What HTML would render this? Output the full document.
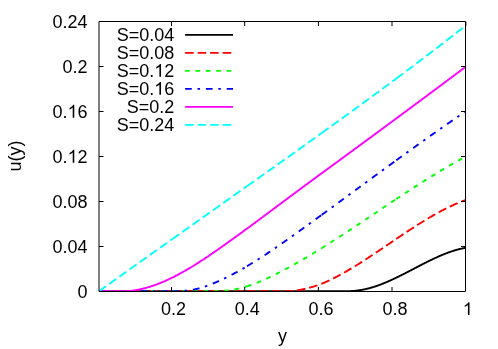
<!DOCTYPE html>
<html><head><meta charset="utf-8"><title>u(y)</title>
<style>html,body{margin:0;padding:0;background:#fff}body{width:498px;height:349px;overflow:hidden;font-family:"Liberation Sans",sans-serif}</style></head>
<body>
<svg width="498" height="349" viewBox="0 0 498 349" style="display:block;will-change:transform">
<rect width="498" height="349" fill="#fff"/>
<g fill="none" stroke-width="1.9" stroke-linejoin="round">
<path d="M99.00,291.15 L99.41,291.15 L99.82,291.15 L100.22,291.15 L100.63,291.15 L101.04,291.15 L101.45,291.15 L101.85,291.15 L102.26,291.15 L102.67,291.15 L103.08,291.15 L103.48,291.15 L103.89,291.15 L104.30,291.15 L104.71,291.15 L105.11,291.15 L105.52,291.15 L105.93,291.15 L106.34,291.15 L106.74,291.15 L107.15,291.15 L107.56,291.15 L107.97,291.15 L108.37,291.15 L108.78,291.15 L109.19,291.15 L109.60,291.15 L110.00,291.15 L110.41,291.15 L110.82,291.15 L111.23,291.15 L111.63,291.15 L112.04,291.15 L112.45,291.15 L112.86,291.15 L113.26,291.15 L113.67,291.15 L114.08,291.15 L114.49,291.15 L114.89,291.15 L115.30,291.15 L115.71,291.15 L116.12,291.15 L116.53,291.15 L116.93,291.15 L117.34,291.15 L117.75,291.15 L118.16,291.15 L118.56,291.15 L118.97,291.15 L119.38,291.15 L119.79,291.15 L120.19,291.15 L120.60,291.15 L121.01,291.15 L121.42,291.15 L121.82,291.15 L122.23,291.15 L122.64,291.15 L123.05,291.15 L123.45,291.15 L123.86,291.15 L124.27,291.15 L124.68,291.15 L125.08,291.15 L125.49,291.15 L125.90,291.15 L126.31,291.15 L126.71,291.15 L127.12,291.15 L127.53,291.15 L127.94,291.15 L128.34,291.15 L128.75,291.15 L129.16,291.15 L129.57,291.15 L129.97,291.15 L130.38,291.15 L130.79,291.15 L131.20,291.15 L131.61,291.15 L132.01,291.15 L132.42,291.15 L132.83,291.15 L133.24,291.15 L133.64,291.15 L134.05,291.15 L134.46,291.15 L134.87,291.15 L135.27,291.15 L135.68,291.15 L136.09,291.15 L136.50,291.15 L136.90,291.15 L137.31,291.15 L137.72,291.15 L138.13,291.15 L138.53,291.15 L138.94,291.15 L139.35,291.15 L139.76,291.15 L140.16,291.15 L140.57,291.15 L140.98,291.15 L141.39,291.15 L141.79,291.15 L142.20,291.15 L142.61,291.15 L143.02,291.15 L143.42,291.15 L143.83,291.15 L144.24,291.15 L144.65,291.15 L145.05,291.15 L145.46,291.15 L145.87,291.15 L146.28,291.15 L146.68,291.15 L147.09,291.15 L147.50,291.15 L147.91,291.15 L148.32,291.15 L148.72,291.15 L149.13,291.15 L149.54,291.15 L149.95,291.15 L150.35,291.15 L150.76,291.15 L151.17,291.15 L151.58,291.15 L151.98,291.15 L152.39,291.15 L152.80,291.15 L153.21,291.15 L153.61,291.15 L154.02,291.15 L154.43,291.15 L154.84,291.15 L155.24,291.15 L155.65,291.15 L156.06,291.15 L156.47,291.15 L156.87,291.15 L157.28,291.15 L157.69,291.15 L158.10,291.15 L158.50,291.15 L158.91,291.15 L159.32,291.15 L159.73,291.15 L160.13,291.15 L160.54,291.15 L160.95,291.15 L161.36,291.15 L161.76,291.15 L162.17,291.15 L162.58,291.15 L162.99,291.15 L163.40,291.15 L163.80,291.15 L164.21,291.15 L164.62,291.15 L165.03,291.15 L165.43,291.15 L165.84,291.15 L166.25,291.15 L166.66,291.15 L167.06,291.15 L167.47,291.15 L167.88,291.15 L168.29,291.15 L168.69,291.15 L169.10,291.15 L169.51,291.15 L169.92,291.15 L170.32,291.15 L170.73,291.15 L171.14,291.15 L171.55,291.15 L171.95,291.15 L172.36,291.15 L172.77,291.15 L173.18,291.15 L173.58,291.15 L173.99,291.15 L174.40,291.15 L174.81,291.15 L175.21,291.15 L175.62,291.15 L176.03,291.15 L176.44,291.15 L176.84,291.15 L177.25,291.15 L177.66,291.15 L178.07,291.15 L178.47,291.15 L178.88,291.15 L179.29,291.15 L179.70,291.15 L180.11,291.15 L180.51,291.15 L180.92,291.15 L181.33,291.15 L181.74,291.15 L182.14,291.15 L182.55,291.15 L182.96,291.15 L183.37,291.15 L183.77,291.15 L184.18,291.15 L184.59,291.15 L185.00,291.15 L185.40,291.15 L185.81,291.15 L186.22,291.15 L186.63,291.15 L187.03,291.15 L187.44,291.15 L187.85,291.15 L188.26,291.15 L188.66,291.15 L189.07,291.15 L189.48,291.15 L189.89,291.15 L190.29,291.15 L190.70,291.15 L191.11,291.15 L191.52,291.15 L191.92,291.15 L192.33,291.15 L192.74,291.15 L193.15,291.15 L193.55,291.15 L193.96,291.15 L194.37,291.15 L194.78,291.15 L195.19,291.15 L195.59,291.15 L196.00,291.15 L196.41,291.15 L196.82,291.15 L197.22,291.15 L197.63,291.15 L198.04,291.15 L198.45,291.15 L198.85,291.15 L199.26,291.15 L199.67,291.15 L200.08,291.15 L200.48,291.15 L200.89,291.15 L201.30,291.15 L201.71,291.15 L202.11,291.15 L202.52,291.15 L202.93,291.15 L203.34,291.15 L203.74,291.15 L204.15,291.15 L204.56,291.15 L204.97,291.15 L205.37,291.15 L205.78,291.15 L206.19,291.15 L206.60,291.15 L207.00,291.15 L207.41,291.15 L207.82,291.15 L208.23,291.15 L208.63,291.15 L209.04,291.15 L209.45,291.15 L209.86,291.15 L210.26,291.15 L210.67,291.15 L211.08,291.15 L211.49,291.15 L211.90,291.15 L212.30,291.15 L212.71,291.15 L213.12,291.15 L213.53,291.15 L213.93,291.15 L214.34,291.15 L214.75,291.15 L215.16,291.15 L215.56,291.15 L215.97,291.15 L216.38,291.15 L216.79,291.15 L217.19,291.15 L217.60,291.15 L218.01,291.15 L218.42,291.15 L218.82,291.15 L219.23,291.15 L219.64,291.15 L220.05,291.15 L220.45,291.15 L220.86,291.15 L221.27,291.15 L221.68,291.15 L222.08,291.15 L222.49,291.15 L222.90,291.15 L223.31,291.15 L223.71,291.15 L224.12,291.15 L224.53,291.15 L224.94,291.15 L225.34,291.15 L225.75,291.15 L226.16,291.15 L226.57,291.15 L226.98,291.15 L227.38,291.15 L227.79,291.15 L228.20,291.15 L228.61,291.15 L229.01,291.15 L229.42,291.15 L229.83,291.15 L230.24,291.15 L230.64,291.15 L231.05,291.15 L231.46,291.15 L231.87,291.15 L232.27,291.15 L232.68,291.15 L233.09,291.15 L233.50,291.15 L233.90,291.15 L234.31,291.15 L234.72,291.15 L235.13,291.15 L235.53,291.15 L235.94,291.15 L236.35,291.15 L236.76,291.15 L237.16,291.15 L237.57,291.15 L237.98,291.15 L238.39,291.15 L238.79,291.15 L239.20,291.15 L239.61,291.15 L240.02,291.15 L240.42,291.15 L240.83,291.15 L241.24,291.15 L241.65,291.15 L242.05,291.15 L242.46,291.15 L242.87,291.15 L243.28,291.15 L243.69,291.15 L244.09,291.15 L244.50,291.15 L244.91,291.15 L245.32,291.15 L245.72,291.15 L246.13,291.15 L246.54,291.15 L246.95,291.15 L247.35,291.15 L247.76,291.15 L248.17,291.15 L248.58,291.15 L248.98,291.15 L249.39,291.15 L249.80,291.15 L250.21,291.15 L250.61,291.15 L251.02,291.15 L251.43,291.15 L251.84,291.15 L252.24,291.15 L252.65,291.15 L253.06,291.15 L253.47,291.15 L253.87,291.15 L254.28,291.15 L254.69,291.15 L255.10,291.15 L255.50,291.15 L255.91,291.15 L256.32,291.15 L256.73,291.15 L257.13,291.15 L257.54,291.15 L257.95,291.15 L258.36,291.15 L258.77,291.15 L259.17,291.15 L259.58,291.15 L259.99,291.15 L260.40,291.15 L260.80,291.15 L261.21,291.15 L261.62,291.15 L262.03,291.15 L262.43,291.15 L262.84,291.15 L263.25,291.15 L263.66,291.15 L264.06,291.15 L264.47,291.15 L264.88,291.15 L265.29,291.15 L265.69,291.15 L266.10,291.15 L266.51,291.15 L266.92,291.15 L267.32,291.15 L267.73,291.15 L268.14,291.15 L268.55,291.15 L268.95,291.15 L269.36,291.15 L269.77,291.15 L270.18,291.15 L270.58,291.15 L270.99,291.15 L271.40,291.15 L271.81,291.15 L272.21,291.15 L272.62,291.15 L273.03,291.15 L273.44,291.15 L273.84,291.15 L274.25,291.15 L274.66,291.15 L275.07,291.15 L275.48,291.15 L275.88,291.15 L276.29,291.15 L276.70,291.15 L277.11,291.15 L277.51,291.15 L277.92,291.15 L278.33,291.15 L278.74,291.15 L279.14,291.15 L279.55,291.15 L279.96,291.15 L280.37,291.15 L280.77,291.15 L281.18,291.15 L281.59,291.15 L282.00,291.15 L282.40,291.15 L282.81,291.15 L283.22,291.15 L283.63,291.15 L284.03,291.15 L284.44,291.15 L284.85,291.15 L285.26,291.15 L285.66,291.15 L286.07,291.15 L286.48,291.15 L286.89,291.15 L287.29,291.15 L287.70,291.15 L288.11,291.15 L288.52,291.15 L288.92,291.15 L289.33,291.15 L289.74,291.15 L290.15,291.15 L290.56,291.15 L290.96,291.15 L291.37,291.15 L291.78,291.15 L292.19,291.15 L292.59,291.15 L293.00,291.15 L293.41,291.15 L293.82,291.15 L294.22,291.15 L294.63,291.15 L295.04,291.15 L295.45,291.15 L295.85,291.15 L296.26,291.15 L296.67,291.15 L297.08,291.15 L297.48,291.15 L297.89,291.15 L298.30,291.15 L298.71,291.15 L299.11,291.15 L299.52,291.15 L299.93,291.15 L300.34,291.15 L300.74,291.15 L301.15,291.15 L301.56,291.15 L301.97,291.15 L302.37,291.15 L302.78,291.15 L303.19,291.15 L303.60,291.15 L304.00,291.15 L304.41,291.15 L304.82,291.15 L305.23,291.15 L305.63,291.15 L306.04,291.15 L306.45,291.15 L306.86,291.15 L307.27,291.15 L307.67,291.15 L308.08,291.15 L308.49,291.15 L308.90,291.15 L309.30,291.15 L309.71,291.15 L310.12,291.15 L310.53,291.15 L310.93,291.15 L311.34,291.15 L311.75,291.15 L312.16,291.15 L312.56,291.15 L312.97,291.15 L313.38,291.15 L313.79,291.15 L314.19,291.15 L314.60,291.15 L315.01,291.15 L315.42,291.15 L315.82,291.15 L316.23,291.15 L316.64,291.15 L317.05,291.15 L317.45,291.15 L317.86,291.15 L318.27,291.15 L318.68,291.15 L319.08,291.15 L319.49,291.15 L319.90,291.15 L320.31,291.15 L320.71,291.15 L321.12,291.15 L321.53,291.15 L321.94,291.15 L322.35,291.15 L322.75,291.15 L323.16,291.15 L323.57,291.15 L323.98,291.15 L324.38,291.15 L324.79,291.15 L325.20,291.12 L325.61,291.12 L326.01,291.12 L326.42,291.12 L326.83,291.12 L327.24,291.12 L327.64,291.12 L328.05,291.12 L328.46,291.12 L328.87,291.12 L329.27,291.12 L329.68,291.12 L330.09,291.12 L330.50,291.12 L330.90,291.13 L331.31,291.13 L331.72,291.13 L332.13,291.13 L332.53,291.13 L332.94,291.14 L333.35,291.14 L333.76,291.14 L334.16,291.15 L334.57,291.15 L334.98,291.15 L335.39,291.15 L335.79,291.15 L336.20,291.15 L336.61,291.15 L337.02,291.15 L337.42,291.15 L337.83,291.15 L338.24,291.15 L338.65,291.15 L339.06,291.15 L339.46,291.15 L339.87,291.15 L340.28,291.15 L340.69,291.15 L341.09,291.15 L341.50,291.15 L341.91,291.15 L342.32,291.15 L342.72,291.15 L343.13,291.15 L343.54,291.15 L343.95,291.15 L344.35,291.15 L344.76,291.15 L345.17,291.15 L345.58,291.15 L345.98,291.15 L346.39,291.15 L346.80,291.15 L347.21,291.15 L347.61,291.15 L348.02,291.15 L348.43,291.15 L348.84,291.15 L349.24,291.15 L349.65,291.14 L350.06,291.12 L350.47,291.11 L350.87,291.09 L351.28,291.06 L351.69,291.04 L352.10,291.02 L352.50,290.99 L352.91,290.96 L353.32,290.93 L353.73,290.90 L354.14,290.87 L354.54,290.83 L354.95,290.80 L355.36,290.76 L355.77,290.71 L356.17,290.67 L356.58,290.62 L356.99,290.58 L357.40,290.53 L357.80,290.47 L358.21,290.42 L358.62,290.37 L359.03,290.31 L359.43,290.25 L359.84,290.19 L360.25,290.12 L360.66,290.06 L361.06,289.99 L361.47,289.92 L361.88,289.85 L362.29,289.77 L362.69,289.70 L363.10,289.62 L363.51,289.54 L363.92,289.46 L364.32,289.37 L364.73,289.29 L365.14,289.20 L365.55,289.11 L365.95,289.02 L366.36,288.92 L366.77,288.83 L367.18,288.73 L367.58,288.63 L367.99,288.53 L368.40,288.43 L368.81,288.32 L369.21,288.22 L369.62,288.11 L370.03,288.00 L370.44,287.88 L370.85,287.77 L371.25,287.65 L371.66,287.53 L372.07,287.41 L372.48,287.29 L372.88,287.17 L373.29,287.04 L373.70,286.92 L374.11,286.79 L374.51,286.66 L374.92,286.52 L375.33,286.39 L375.74,286.26 L376.14,286.12 L376.55,285.98 L376.96,285.84 L377.37,285.70 L377.77,285.55 L378.18,285.41 L378.59,285.26 L379.00,285.11 L379.40,284.96 L379.81,284.81 L380.22,284.66 L380.63,284.51 L381.03,284.35 L381.44,284.19 L381.85,284.04 L382.26,283.88 L382.66,283.71 L383.07,283.55 L383.48,283.39 L383.89,283.22 L384.29,283.06 L384.70,282.89 L385.11,282.72 L385.52,282.55 L385.93,282.38 L386.33,282.21 L386.74,282.03 L387.15,281.86 L387.56,281.68 L387.96,281.51 L388.37,281.33 L388.78,281.15 L389.19,280.97 L389.59,280.79 L390.00,280.60 L390.41,280.42 L390.82,280.24 L391.22,280.05 L391.63,279.86 L392.04,279.68 L392.45,279.49 L392.85,279.30 L393.26,279.11 L393.67,278.92 L394.08,278.72 L394.48,278.53 L394.89,278.34 L395.30,278.14 L395.71,277.95 L396.11,277.75 L396.52,277.56 L396.93,277.36 L397.34,277.16 L397.74,276.96 L398.15,276.76 L398.56,276.56 L398.97,276.36 L399.37,276.16 L399.78,275.96 L400.19,275.75 L400.60,275.55 L401.00,275.35 L401.41,275.14 L401.82,274.94 L402.23,274.73 L402.64,274.53 L403.04,274.32 L403.45,274.11 L403.86,273.90 L404.27,273.70 L404.67,273.49 L405.08,273.28 L405.49,273.07 L405.90,272.86 L406.30,272.65 L406.71,272.44 L407.12,272.23 L407.53,272.02 L407.93,271.81 L408.34,271.60 L408.75,271.39 L409.16,271.18 L409.56,270.96 L409.97,270.75 L410.38,270.54 L410.79,270.33 L411.19,270.12 L411.60,269.90 L412.01,269.69 L412.42,269.48 L412.82,269.27 L413.23,269.05 L413.64,268.84 L414.05,268.63 L414.45,268.41 L414.86,268.20 L415.27,267.99 L415.68,267.78 L416.08,267.56 L416.49,267.35 L416.90,267.14 L417.31,266.93 L417.72,266.72 L418.12,266.50 L418.53,266.29 L418.94,266.08 L419.35,265.87 L419.75,265.66 L420.16,265.45 L420.57,265.24 L420.98,265.03 L421.38,264.82 L421.79,264.61 L422.20,264.40 L422.61,264.19 L423.01,263.98 L423.42,263.77 L423.83,263.57 L424.24,263.36 L424.64,263.15 L425.05,262.95 L425.46,262.74 L425.87,262.54 L426.27,262.33 L426.68,262.13 L427.09,261.92 L427.50,261.72 L427.90,261.52 L428.31,261.32 L428.72,261.12 L429.13,260.92 L429.53,260.72 L429.94,260.52 L430.35,260.32 L430.76,260.12 L431.16,259.93 L431.57,259.73 L431.98,259.53 L432.39,259.34 L432.79,259.15 L433.20,258.95 L433.61,258.76 L434.02,258.57 L434.43,258.38 L434.83,258.19 L435.24,258.00 L435.65,257.81 L436.06,257.63 L436.46,257.44 L436.87,257.26 L437.28,257.07 L437.69,256.89 L438.09,256.71 L438.50,256.53 L438.91,256.35 L439.32,256.17 L439.72,255.99 L440.13,255.82 L440.54,255.64 L440.95,255.47 L441.35,255.30 L441.76,255.13 L442.17,254.96 L442.58,254.79 L442.98,254.62 L443.39,254.45 L443.80,254.29 L444.21,254.12 L444.61,253.96 L445.02,253.80 L445.43,253.64 L445.84,253.48 L446.24,253.32 L446.65,253.17 L447.06,253.01 L447.47,252.86 L447.87,252.71 L448.28,252.56 L448.69,252.41 L449.10,252.27 L449.51,252.12 L449.91,251.98 L450.32,251.83 L450.73,251.69 L451.14,251.55 L451.54,251.42 L451.95,251.28 L452.36,251.15 L452.77,251.02 L453.17,250.88 L453.58,250.76 L453.99,250.63 L454.40,250.50 L454.80,250.38 L455.21,250.26 L455.62,250.14 L456.03,250.02 L456.43,249.90 L456.84,249.79 L457.25,249.68 L457.66,249.56 L458.06,249.46 L458.47,249.35 L458.88,249.24 L459.29,249.14 L459.69,249.04 L460.10,248.94 L460.51,248.84 L460.92,248.75 L461.32,248.65 L461.73,248.56 L462.14,248.47 L462.55,248.39 L462.95,248.30 L463.36,248.22 L463.77,248.14 L464.18,248.06 L464.58,247.98 L464.99,247.91 L465.40,247.84" stroke="#000"/>
<path d="M99.00,291.15 L99.41,291.15 L99.82,291.15 L100.22,291.15 L100.63,291.15 L101.04,291.15 L101.45,291.15 L101.85,291.15 L102.26,291.15 L102.67,291.15 L103.08,291.15 L103.48,291.15 L103.89,291.15 L104.30,291.15 L104.71,291.15 L105.11,291.15 L105.52,291.15 L105.93,291.15 L106.34,291.15 L106.74,291.15 L107.15,291.15 L107.56,291.15 L107.97,291.15 L108.37,291.15 L108.78,291.15 L109.19,291.15 L109.60,291.15 L110.00,291.15 L110.41,291.15 L110.82,291.15 L111.23,291.15 L111.63,291.15 L112.04,291.15 L112.45,291.15 L112.86,291.15 L113.26,291.15 L113.67,291.15 L114.08,291.15 L114.49,291.15 L114.89,291.15 L115.30,291.15 L115.71,291.15 L116.12,291.15 L116.53,291.15 L116.93,291.15 L117.34,291.15 L117.75,291.15 L118.16,291.15 L118.56,291.15 L118.97,291.15 L119.38,291.15 L119.79,291.15 L120.19,291.15 L120.60,291.15 L121.01,291.15 L121.42,291.15 L121.82,291.15 L122.23,291.15 L122.64,291.15 L123.05,291.15 L123.45,291.15 L123.86,291.15 L124.27,291.15 L124.68,291.15 L125.08,291.15 L125.49,291.15 L125.90,291.15 L126.31,291.15 L126.71,291.15 L127.12,291.15 L127.53,291.15 L127.94,291.15 L128.34,291.15 L128.75,291.15 L129.16,291.15 L129.57,291.15 L129.97,291.15 L130.38,291.15 L130.79,291.15 L131.20,291.15 L131.61,291.15 L132.01,291.15 L132.42,291.15 L132.83,291.15 L133.24,291.15 L133.64,291.15 L134.05,291.15 L134.46,291.15 L134.87,291.15 L135.27,291.15 L135.68,291.15 L136.09,291.15 L136.50,291.15 L136.90,291.15 L137.31,291.15 L137.72,291.15 L138.13,291.15 L138.53,291.15 L138.94,291.15 L139.35,291.15 L139.76,291.15 L140.16,291.15 L140.57,291.15 L140.98,291.15 L141.39,291.15 L141.79,291.15 L142.20,291.15 L142.61,291.15 L143.02,291.15 L143.42,291.15 L143.83,291.15 L144.24,291.15 L144.65,291.15 L145.05,291.15 L145.46,291.15 L145.87,291.15 L146.28,291.15 L146.68,291.15 L147.09,291.15 L147.50,291.15 L147.91,291.15 L148.32,291.15 L148.72,291.15 L149.13,291.15 L149.54,291.15 L149.95,291.15 L150.35,291.15 L150.76,291.15 L151.17,291.15 L151.58,291.15 L151.98,291.15 L152.39,291.15 L152.80,291.15 L153.21,291.15 L153.61,291.15 L154.02,291.15 L154.43,291.15 L154.84,291.15 L155.24,291.15 L155.65,291.15 L156.06,291.15 L156.47,291.15 L156.87,291.15 L157.28,291.15 L157.69,291.15 L158.10,291.15 L158.50,291.15 L158.91,291.15 L159.32,291.15 L159.73,291.15 L160.13,291.15 L160.54,291.15 L160.95,291.15 L161.36,291.15 L161.76,291.15 L162.17,291.15 L162.58,291.15 L162.99,291.15 L163.40,291.15 L163.80,291.15 L164.21,291.15 L164.62,291.15 L165.03,291.15 L165.43,291.15 L165.84,291.15 L166.25,291.15 L166.66,291.15 L167.06,291.15 L167.47,291.15 L167.88,291.15 L168.29,291.15 L168.69,291.15 L169.10,291.15 L169.51,291.15 L169.92,291.15 L170.32,291.15 L170.73,291.15 L171.14,291.15 L171.55,291.15 L171.95,291.15 L172.20,291.15" stroke="#f00" stroke-dasharray="8.6 3.9"/>
<path d="M172.20,291.15 L172.36,291.15 L172.77,291.15 L173.18,291.15 L173.58,291.15 L173.99,291.15 L174.40,291.15 L174.81,291.15 L175.21,291.15 L175.62,291.15 L176.03,291.15 L176.44,291.15 L176.84,291.15 L177.25,291.15 L177.66,291.15 L178.07,291.15 L178.47,291.15 L178.88,291.15 L179.29,291.15 L179.70,291.15 L180.11,291.15 L180.51,291.15 L180.92,291.15 L181.33,291.15 L181.74,291.15 L182.14,291.15 L182.55,291.15 L182.96,291.15 L183.37,291.15 L183.77,291.15 L184.18,291.15 L184.59,291.15 L185.00,291.15 L185.40,291.15 L185.81,291.15 L186.22,291.15 L186.63,291.15 L187.03,291.15 L187.44,291.15 L187.85,291.15 L188.26,291.15 L188.66,291.15 L189.07,291.15 L189.48,291.15 L189.89,291.15 L190.29,291.15 L190.70,291.15 L191.11,291.15 L191.52,291.15 L191.92,291.15 L192.33,291.15 L192.74,291.15 L193.15,291.15 L193.55,291.15 L193.96,291.15 L194.37,291.15 L194.78,291.15 L195.19,291.15 L195.59,291.15 L196.00,291.15 L196.41,291.15 L196.82,291.15 L197.22,291.15 L197.63,291.15 L198.04,291.15 L198.45,291.15 L198.85,291.15 L199.26,291.15 L199.67,291.15 L200.08,291.15 L200.48,291.15 L200.89,291.15 L201.30,291.15 L201.71,291.15 L202.11,291.15 L202.52,291.15 L202.93,291.15 L203.34,291.15 L203.74,291.15 L204.15,291.15 L204.56,291.15 L204.97,291.15 L205.37,291.15 L205.78,291.15 L206.19,291.15 L206.60,291.15 L207.00,291.15 L207.41,291.15 L207.82,291.15 L208.23,291.15 L208.63,291.15 L209.04,291.15 L209.45,291.15 L209.86,291.15 L210.26,291.15 L210.67,291.15 L211.08,291.15 L211.49,291.15 L211.90,291.15 L212.30,291.15 L212.71,291.15 L213.12,291.15 L213.53,291.15 L213.93,291.15 L214.34,291.15 L214.75,291.15 L215.16,291.15 L215.56,291.15 L215.97,291.15 L216.38,291.15 L216.79,291.15 L217.19,291.15 L217.60,291.15 L218.01,291.15 L218.42,291.15 L218.82,291.15 L219.23,291.15 L219.64,291.15 L220.05,291.15 L220.45,291.15 L220.86,291.15 L221.27,291.15 L221.68,291.15 L222.08,291.15 L222.49,291.15 L222.90,291.15 L223.31,291.15 L223.71,291.15 L224.12,291.15 L224.53,291.15 L224.94,291.15 L225.34,291.15 L225.75,291.15 L226.16,291.15 L226.57,291.15 L226.98,291.15 L227.38,291.15 L227.79,291.15 L228.20,291.15 L228.61,291.15 L229.01,291.15 L229.42,291.15 L229.83,291.15 L230.24,291.15 L230.64,291.15 L231.05,291.15 L231.46,291.15 L231.87,291.15 L232.27,291.15 L232.68,291.15 L233.09,291.15 L233.50,291.15 L233.90,291.15 L234.31,291.15 L234.72,291.15 L235.13,291.15 L235.53,291.15 L235.94,291.15 L236.35,291.15 L236.76,291.15 L237.16,291.15 L237.57,291.15 L237.98,291.15 L238.39,291.15 L238.79,291.15 L239.20,291.15 L239.61,291.15 L240.02,291.15 L240.42,291.15 L240.83,291.15 L241.24,291.15 L241.65,291.15 L242.05,291.15 L242.46,291.15 L242.87,291.15 L243.28,291.15 L243.69,291.15 L244.09,291.15 L244.50,291.15 L244.91,291.15 L245.32,291.15 L245.72,291.15 L246.13,291.15 L246.54,291.15 L246.95,291.15 L247.00,291.15" stroke="#f00" stroke-dasharray="8.6 3.9"/>
<path d="M247.00,291.15 L247.35,291.15 L247.76,291.15 L248.17,291.15 L248.58,291.15 L248.98,291.15 L249.39,291.15 L249.80,291.15 L250.21,291.15 L250.61,291.15 L251.02,291.15 L251.43,291.15 L251.84,291.15 L252.24,291.15 L252.65,291.15 L253.06,291.15 L253.47,291.15 L253.87,291.15 L254.28,291.15 L254.69,291.15 L255.10,291.15 L255.50,291.15 L255.91,291.15 L256.32,291.15 L256.73,291.15 L257.13,291.15 L257.54,291.15 L257.95,291.15 L258.36,291.15 L258.77,291.15 L259.17,291.15 L259.58,291.15 L259.99,291.15 L260.40,291.15 L260.80,291.15 L261.21,291.15 L261.62,291.15 L262.03,291.14 L262.43,291.14 L262.84,291.14 L263.25,291.14 L263.66,291.14 L264.06,291.14 L264.47,291.13 L264.88,291.13 L265.29,291.13 L265.69,291.13 L266.10,291.13 L266.51,291.13 L266.92,291.13 L267.32,291.13 L267.73,291.13 L268.14,291.13 L268.55,291.14 L268.95,291.14 L269.36,291.14 L269.77,291.14 L270.18,291.14 L270.58,291.14 L270.99,291.14 L271.40,291.14 L271.81,291.15 L272.21,291.15 L272.62,291.15 L273.03,291.15 L273.44,291.15 L273.84,291.15 L274.25,291.15 L274.66,291.15 L275.07,291.15 L275.48,291.15 L275.88,291.15 L276.29,291.15 L276.70,291.15 L277.11,291.15 L277.51,291.15 L277.92,291.15 L278.33,291.15 L278.74,291.15 L279.14,291.15 L279.55,291.15 L279.96,291.15 L280.37,291.15 L280.77,291.15 L281.18,291.15 L281.59,291.15 L282.00,291.15 L282.40,291.15 L282.81,291.15 L283.22,291.15 L283.63,291.15 L284.03,291.15 L284.44,291.15 L284.85,291.15 L285.26,291.15 L285.66,291.15 L286.07,291.15 L286.48,291.15 L286.89,291.15 L287.29,291.15 L287.70,291.15 L288.11,291.14 L288.52,291.12 L288.92,291.10 L289.33,291.08 L289.74,291.06 L290.15,291.04 L290.56,291.01 L290.96,290.98 L291.37,290.95 L291.78,290.92 L292.19,290.89 L292.59,290.85 L293.00,290.81 L293.41,290.77 L293.82,290.72 L294.22,290.68 L294.63,290.63 L295.04,290.58 L295.45,290.53 L295.85,290.48 L296.26,290.42 L296.67,290.36 L297.08,290.30 L297.48,290.24 L297.89,290.18 L298.30,290.11 L298.71,290.05 L299.11,289.98 L299.52,289.91 L299.93,289.84 L300.34,289.77 L300.74,289.69 L301.15,289.61 L301.56,289.54 L301.97,289.46 L302.37,289.38 L302.78,289.29 L303.19,289.21 L303.60,289.12 L304.00,289.04 L304.41,288.95 L304.82,288.86 L305.23,288.77 L305.63,288.67 L306.04,288.58 L306.45,288.48 L306.86,288.38 L307.27,288.28 L307.67,288.18 L308.08,288.08 L308.49,287.98 L308.90,287.87 L309.30,287.76 L309.71,287.65 L310.12,287.54 L310.53,287.43 L310.93,287.32 L311.34,287.20 L311.75,287.08 L312.16,286.96 L312.56,286.84 L312.97,286.72 L313.38,286.59 L313.79,286.47 L314.19,286.34 L314.60,286.21 L315.01,286.08 L315.42,285.95 L315.82,285.81 L316.23,285.68 L316.64,285.54 L317.05,285.40 L317.45,285.26 L317.86,285.12 L318.27,284.97 L318.68,284.83 L319.08,284.68 L319.49,284.53 L319.90,284.38 L320.31,284.22 L320.71,284.07 L321.12,283.91 L321.53,283.75 L321.65,283.71" stroke="#f00" stroke-dasharray="8.6 3.9"/>
<path d="M321.65,283.71 L321.94,283.59 L322.35,283.43 L322.75,283.27 L323.16,283.10 L323.57,282.93 L323.98,282.76 L324.38,282.59 L324.79,282.42 L325.20,282.25 L325.61,282.07 L326.01,281.89 L326.42,281.71 L326.83,281.53 L327.24,281.35 L327.64,281.16 L328.05,280.97 L328.46,280.79 L328.87,280.60 L329.27,280.40 L329.68,280.21 L330.09,280.02 L330.50,279.82 L330.90,279.62 L331.31,279.43 L331.72,279.23 L332.13,279.02 L332.53,278.82 L332.94,278.62 L333.35,278.41 L333.76,278.21 L334.16,278.00 L334.57,277.79 L334.98,277.58 L335.39,277.37 L335.79,277.16 L336.20,276.95 L336.61,276.73 L337.02,276.52 L337.42,276.30 L337.83,276.08 L338.24,275.87 L338.65,275.65 L339.06,275.43 L339.46,275.21 L339.87,274.99 L340.28,274.77 L340.69,274.54 L341.09,274.32 L341.50,274.09 L341.91,273.87 L342.32,273.64 L342.72,273.41 L343.13,273.18 L343.54,272.96 L343.95,272.73 L344.35,272.49 L344.76,272.26 L345.17,272.03 L345.58,271.80 L345.98,271.56 L346.39,271.33 L346.80,271.09 L347.21,270.86 L347.61,270.62 L348.02,270.38 L348.43,270.14 L348.84,269.90 L349.24,269.66 L349.65,269.42 L350.06,269.18 L350.47,268.94 L350.87,268.69 L351.28,268.45 L351.69,268.20 L352.10,267.96 L352.50,267.71 L352.91,267.47 L353.32,267.22 L353.73,266.97 L354.14,266.72 L354.54,266.47 L354.95,266.22 L355.36,265.97 L355.77,265.72 L356.17,265.47 L356.58,265.22 L356.99,264.97 L357.40,264.71 L357.80,264.46 L358.21,264.20 L358.62,263.95 L359.03,263.69 L359.43,263.44 L359.84,263.18 L360.25,262.92 L360.66,262.66 L361.06,262.40 L361.47,262.15 L361.88,261.89 L362.29,261.63 L362.69,261.37 L363.10,261.10 L363.51,260.84 L363.92,260.58 L364.32,260.32 L364.73,260.06 L365.14,259.79 L365.55,259.53 L365.95,259.26 L366.36,259.00 L366.77,258.73 L367.18,258.47 L367.58,258.20 L367.99,257.94 L368.40,257.67 L368.81,257.40 L369.21,257.14 L369.62,256.87 L370.03,256.60 L370.44,256.33 L370.85,256.06 L371.25,255.79 L371.66,255.52 L372.07,255.25 L372.48,254.98 L372.88,254.71 L373.29,254.44 L373.70,254.17 L374.11,253.90 L374.51,253.63 L374.92,253.36 L375.33,253.08 L375.74,252.81 L376.14,252.54 L376.55,252.27 L376.96,251.99 L377.37,251.72 L377.77,251.45 L378.18,251.17 L378.59,250.90 L379.00,250.62 L379.40,250.35 L379.81,250.07 L380.22,249.80 L380.63,249.52 L381.03,249.25 L381.44,248.97 L381.85,248.70 L382.26,248.42 L382.66,248.15 L383.07,247.87 L383.48,247.60 L383.89,247.32 L384.29,247.04 L384.70,246.77 L385.11,246.49 L385.52,246.22 L385.93,245.94 L386.33,245.66 L386.74,245.39 L387.15,245.11 L387.56,244.83 L387.96,244.56 L388.37,244.28 L388.78,244.00 L389.19,243.73 L389.59,243.45 L390.00,243.17 L390.41,242.90 L390.82,242.62 L391.22,242.34 L391.63,242.07 L392.04,241.79 L392.45,241.51 L392.85,241.24 L393.26,240.96 L393.67,240.68 L394.08,240.41 L394.48,240.13 L394.89,239.86 L395.30,239.58 L395.71,239.30 L396.11,239.03 L396.30,238.90" stroke="#f00" stroke-dasharray="8.6 3.9"/>
<path d="M396.30,238.90 L396.52,238.75 L396.93,238.48 L397.34,238.20 L397.74,237.93 L398.15,237.65 L398.56,237.38 L398.97,237.10 L399.37,236.83 L399.78,236.55 L400.19,236.28 L400.60,236.01 L401.00,235.73 L401.41,235.46 L401.82,235.18 L402.23,234.91 L402.64,234.64 L403.04,234.37 L403.45,234.09 L403.86,233.82 L404.27,233.55 L404.67,233.28 L405.08,233.01 L405.49,232.74 L405.90,232.47 L406.30,232.20 L406.71,231.93 L407.12,231.66 L407.53,231.39 L407.93,231.12 L408.34,230.85 L408.75,230.58 L409.16,230.31 L409.56,230.04 L409.97,229.78 L410.38,229.51 L410.79,229.24 L411.19,228.98 L411.60,228.71 L412.01,228.45 L412.42,228.18 L412.82,227.92 L413.23,227.65 L413.64,227.39 L414.05,227.13 L414.45,226.86 L414.86,226.60 L415.27,226.34 L415.68,226.08 L416.08,225.82 L416.49,225.56 L416.90,225.30 L417.31,225.04 L417.72,224.78 L418.12,224.52 L418.53,224.26 L418.94,224.01 L419.35,223.75 L419.75,223.49 L420.16,223.24 L420.57,222.98 L420.98,222.73 L421.38,222.48 L421.79,222.22 L422.20,221.97 L422.61,221.72 L423.01,221.47 L423.42,221.22 L423.83,220.97 L424.24,220.72 L424.64,220.47 L425.05,220.22 L425.46,219.97 L425.87,219.72 L426.27,219.48 L426.68,219.23 L427.09,218.99 L427.50,218.74 L427.90,218.50 L428.31,218.26 L428.72,218.01 L429.13,217.77 L429.53,217.53 L429.94,217.29 L430.35,217.05 L430.76,216.82 L431.16,216.58 L431.57,216.34 L431.98,216.10 L432.39,215.87 L432.79,215.63 L433.20,215.40 L433.61,215.17 L434.02,214.94 L434.43,214.70 L434.83,214.47 L435.24,214.24 L435.65,214.02 L436.06,213.79 L436.46,213.56 L436.87,213.33 L437.28,213.11 L437.69,212.88 L438.09,212.66 L438.50,212.44 L438.91,212.22 L439.32,212.00 L439.72,211.78 L440.13,211.56 L440.54,211.34 L440.95,211.12 L441.35,210.91 L441.76,210.69 L442.17,210.48 L442.58,210.26 L442.98,210.05 L443.39,209.84 L443.80,209.63 L444.21,209.42 L444.61,209.21 L445.02,209.00 L445.43,208.80 L445.84,208.59 L446.24,208.39 L446.65,208.18 L447.06,207.98 L447.47,207.78 L447.87,207.58 L448.28,207.38 L448.69,207.18 L449.10,206.99 L449.51,206.79 L449.91,206.60 L450.32,206.40 L450.73,206.21 L451.14,206.02 L451.54,205.83 L451.95,205.64 L452.36,205.45 L452.77,205.27 L453.17,205.08 L453.58,204.90 L453.99,204.71 L454.40,204.53 L454.80,204.35 L455.21,204.17 L455.62,203.99 L456.03,203.82 L456.43,203.64 L456.84,203.47 L457.25,203.29 L457.66,203.12 L458.06,202.95 L458.47,202.78 L458.88,202.61 L459.29,202.44 L459.69,202.28 L460.10,202.11 L460.51,201.95 L460.92,201.79 L461.32,201.63 L461.73,201.47 L462.14,201.31 L462.55,201.15 L462.95,201.00 L463.36,200.84 L463.77,200.69 L464.18,200.54 L464.58,200.39 L464.99,200.24 L465.40,200.09" stroke="#f00" stroke-dasharray="8.6 3.9"/>
<path d="M99.00,291.15 L99.41,291.15 L99.82,291.15 L100.22,291.15 L100.63,291.15 L101.04,291.15 L101.45,291.15 L101.85,291.15 L102.26,291.15 L102.67,291.15 L103.08,291.15 L103.48,291.15 L103.89,291.15 L104.30,291.15 L104.71,291.15 L105.11,291.15 L105.52,291.15 L105.93,291.15 L106.34,291.15 L106.74,291.15 L107.15,291.15 L107.56,291.15 L107.97,291.15 L108.37,291.15 L108.78,291.15 L109.19,291.15 L109.60,291.15 L110.00,291.15 L110.41,291.15 L110.82,291.15 L111.23,291.15 L111.63,291.15 L112.04,291.15 L112.45,291.15 L112.86,291.15 L113.26,291.15 L113.67,291.15 L114.08,291.15 L114.49,291.15 L114.89,291.15 L115.30,291.15 L115.71,291.15 L116.12,291.15 L116.53,291.15 L116.93,291.15 L117.34,291.15 L117.75,291.15 L118.16,291.15 L118.56,291.15 L118.97,291.15 L119.38,291.15 L119.79,291.15 L120.19,291.15 L120.60,291.15 L121.01,291.15 L121.42,291.15 L121.82,291.15 L122.23,291.15 L122.64,291.15 L123.05,291.15 L123.45,291.15 L123.86,291.15 L124.27,291.15 L124.68,291.15 L125.08,291.15 L125.49,291.15 L125.90,291.15 L126.31,291.15 L126.71,291.15 L127.12,291.15 L127.53,291.15 L127.94,291.15 L128.34,291.15 L128.75,291.15 L129.16,291.15 L129.57,291.15 L129.97,291.15 L130.38,291.15 L130.79,291.15 L131.20,291.15 L131.61,291.15 L132.01,291.15 L132.42,291.15 L132.83,291.15 L133.24,291.15 L133.64,291.15 L134.05,291.15 L134.46,291.15 L134.87,291.15 L135.27,291.15 L135.68,291.15 L136.09,291.15 L136.50,291.15 L136.90,291.15 L137.31,291.15 L137.72,291.15 L138.13,291.15 L138.53,291.15 L138.94,291.15 L139.35,291.15 L139.76,291.15 L140.16,291.15 L140.57,291.15 L140.98,291.15 L141.39,291.15 L141.79,291.15 L142.20,291.15 L142.61,291.15 L143.02,291.15 L143.42,291.15 L143.83,291.15 L144.24,291.15 L144.65,291.15 L145.05,291.15 L145.46,291.15 L145.87,291.15 L146.28,291.15 L146.68,291.15 L147.09,291.15 L147.50,291.15 L147.91,291.15 L148.32,291.15 L148.72,291.15 L149.13,291.15 L149.54,291.15 L149.95,291.15 L150.35,291.15 L150.76,291.15 L151.17,291.15 L151.58,291.15 L151.98,291.15 L152.39,291.15 L152.80,291.15 L153.21,291.15 L153.61,291.15 L154.02,291.15 L154.43,291.15 L154.84,291.15 L155.24,291.15 L155.65,291.15 L156.06,291.15 L156.47,291.15 L156.87,291.15 L157.28,291.15 L157.69,291.15 L158.10,291.15 L158.50,291.15 L158.91,291.15 L159.32,291.15 L159.73,291.15 L160.13,291.15 L160.54,291.15 L160.95,291.15 L161.36,291.15 L161.76,291.15 L162.17,291.15 L162.58,291.15 L162.99,291.15 L163.40,291.15 L163.80,291.15 L164.21,291.15 L164.62,291.15 L165.03,291.15 L165.43,291.15 L165.84,291.15 L166.25,291.15 L166.66,291.15 L167.06,291.15 L167.47,291.15 L167.88,291.15 L168.29,291.15 L168.69,291.15 L169.10,291.15 L169.51,291.15 L169.92,291.15 L170.32,291.15 L170.73,291.15 L171.14,291.15 L171.55,291.15 L171.95,291.15 L172.20,291.15" stroke="#0f0" stroke-dasharray="4.6 5.8"/>
<path d="M172.20,291.15 L172.36,291.15 L172.77,291.15 L173.18,291.15 L173.58,291.15 L173.99,291.15 L174.40,291.15 L174.81,291.15 L175.21,291.15 L175.62,291.15 L176.03,291.15 L176.44,291.15 L176.84,291.15 L177.25,291.15 L177.66,291.15 L178.07,291.15 L178.47,291.15 L178.88,291.15 L179.29,291.15 L179.70,291.15 L180.11,291.15 L180.51,291.15 L180.92,291.15 L181.33,291.15 L181.74,291.15 L182.14,291.15 L182.55,291.15 L182.96,291.15 L183.37,291.15 L183.77,291.15 L184.18,291.15 L184.59,291.15 L185.00,291.15 L185.40,291.15 L185.81,291.15 L186.22,291.15 L186.63,291.15 L187.03,291.15 L187.44,291.15 L187.85,291.15 L188.26,291.15 L188.66,291.15 L189.07,291.15 L189.48,291.15 L189.89,291.15 L190.29,291.15 L190.70,291.15 L191.11,291.15 L191.52,291.15 L191.92,291.15 L192.33,291.15 L192.74,291.15 L193.15,291.15 L193.55,291.15 L193.96,291.15 L194.37,291.15 L194.78,291.15 L195.19,291.15 L195.59,291.15 L196.00,291.09 L196.41,291.09 L196.82,291.10 L197.22,291.10 L197.63,291.11 L198.04,291.12 L198.45,291.12 L198.85,291.13 L199.26,291.14 L199.67,291.14 L200.08,291.15 L200.48,291.15 L200.89,291.15 L201.30,291.15 L201.71,291.15 L202.11,291.15 L202.52,291.15 L202.93,291.15 L203.34,291.15 L203.74,291.15 L204.15,291.15 L204.56,291.15 L204.97,291.15 L205.37,291.15 L205.78,291.15 L206.19,291.15 L206.60,291.15 L207.00,291.15 L207.41,291.15 L207.82,291.15 L208.23,291.15 L208.63,291.15 L209.04,291.15 L209.45,291.15 L209.86,291.15 L210.26,291.15 L210.67,291.15 L211.08,291.15 L211.49,291.15 L211.90,291.15 L212.30,291.15 L212.71,291.15 L213.12,291.15 L213.53,291.15 L213.93,291.15 L214.34,291.15 L214.75,291.15 L215.16,291.15 L215.56,291.15 L215.97,291.15 L216.38,291.15 L216.79,291.15 L217.19,291.15 L217.60,291.15 L218.01,291.15 L218.42,291.14 L218.82,291.12 L219.23,291.10 L219.64,291.08 L220.05,291.06 L220.45,291.04 L220.86,291.01 L221.27,290.99 L221.68,290.96 L222.08,290.94 L222.49,290.91 L222.90,290.88 L223.31,290.85 L223.71,290.82 L224.12,290.78 L224.53,290.75 L224.94,290.71 L225.34,290.68 L225.75,290.64 L226.16,290.60 L226.57,290.56 L226.98,290.51 L227.38,290.47 L227.79,290.42 L228.20,290.37 L228.61,290.33 L229.01,290.27 L229.42,290.22 L229.83,290.17 L230.24,290.11 L230.64,290.06 L231.05,290.00 L231.46,289.94 L231.87,289.88 L232.27,289.81 L232.68,289.75 L233.09,289.68 L233.50,289.61 L233.90,289.54 L234.31,289.47 L234.72,289.39 L235.13,289.32 L235.53,289.24 L235.94,289.16 L236.35,289.08 L236.76,288.99 L237.16,288.91 L237.57,288.82 L237.98,288.73 L238.39,288.64 L238.79,288.55 L239.20,288.46 L239.61,288.36 L240.02,288.26 L240.42,288.16 L240.83,288.06 L241.24,287.96 L241.65,287.85 L242.05,287.74 L242.46,287.64 L242.87,287.53 L243.28,287.41 L243.69,287.30 L244.09,287.19 L244.50,287.07 L244.91,286.95 L245.32,286.83 L245.72,286.71 L246.13,286.59 L246.54,286.46 L246.95,286.33 L247.00,286.32" stroke="#0f0" stroke-dasharray="4.6 5.8"/>
<path d="M247.00,286.32 L247.35,286.21 L247.76,286.08 L248.17,285.95 L248.58,285.81 L248.98,285.68 L249.39,285.54 L249.80,285.41 L250.21,285.27 L250.61,285.13 L251.02,284.99 L251.43,284.85 L251.84,284.70 L252.24,284.56 L252.65,284.41 L253.06,284.26 L253.47,284.11 L253.87,283.96 L254.28,283.81 L254.69,283.65 L255.10,283.50 L255.50,283.34 L255.91,283.19 L256.32,283.03 L256.73,282.87 L257.13,282.71 L257.54,282.54 L257.95,282.38 L258.36,282.22 L258.77,282.05 L259.17,281.88 L259.58,281.71 L259.99,281.54 L260.40,281.37 L260.80,281.20 L261.21,281.03 L261.62,280.86 L262.03,280.68 L262.43,280.50 L262.84,280.33 L263.25,280.15 L263.66,279.97 L264.06,279.79 L264.47,279.61 L264.88,279.43 L265.29,279.24 L265.69,279.06 L266.10,278.87 L266.51,278.69 L266.92,278.50 L267.32,278.31 L267.73,278.12 L268.14,277.93 L268.55,277.74 L268.95,277.55 L269.36,277.36 L269.77,277.17 L270.18,276.97 L270.58,276.78 L270.99,276.58 L271.40,276.39 L271.81,276.19 L272.21,275.99 L272.62,275.79 L273.03,275.59 L273.44,275.39 L273.84,275.19 L274.25,274.99 L274.66,274.79 L275.07,274.59 L275.48,274.38 L275.88,274.18 L276.29,273.98 L276.70,273.77 L277.11,273.56 L277.51,273.36 L277.92,273.15 L278.33,272.94 L278.74,272.74 L279.14,272.53 L279.55,272.32 L279.96,272.11 L280.37,271.90 L280.77,271.69 L281.18,271.47 L281.59,271.26 L282.00,271.05 L282.40,270.84 L282.81,270.62 L283.22,270.41 L283.63,270.19 L284.03,269.98 L284.44,269.76 L284.85,269.55 L285.26,269.33 L285.66,269.11 L286.07,268.89 L286.48,268.68 L286.89,268.46 L287.29,268.24 L287.70,268.02 L288.11,267.80 L288.52,267.58 L288.92,267.35 L289.33,267.13 L289.74,266.91 L290.15,266.69 L290.56,266.46 L290.96,266.24 L291.37,266.01 L291.78,265.79 L292.19,265.56 L292.59,265.34 L293.00,265.11 L293.41,264.88 L293.82,264.66 L294.22,264.43 L294.63,264.20 L295.04,263.97 L295.45,263.74 L295.85,263.51 L296.26,263.28 L296.67,263.05 L297.08,262.82 L297.48,262.59 L297.89,262.36 L298.30,262.13 L298.71,261.89 L299.11,261.66 L299.52,261.43 L299.93,261.19 L300.34,260.96 L300.74,260.72 L301.15,260.49 L301.56,260.25 L301.97,260.01 L302.37,259.78 L302.78,259.54 L303.19,259.30 L303.60,259.07 L304.00,258.83 L304.41,258.59 L304.82,258.35 L305.23,258.11 L305.63,257.87 L306.04,257.63 L306.45,257.39 L306.86,257.15 L307.27,256.91 L307.67,256.66 L308.08,256.42 L308.49,256.18 L308.90,255.94 L309.30,255.69 L309.71,255.45 L310.12,255.21 L310.53,254.96 L310.93,254.72 L311.34,254.47 L311.75,254.23 L312.16,253.98 L312.56,253.73 L312.97,253.49 L313.38,253.24 L313.79,252.99 L314.19,252.74 L314.60,252.50 L315.01,252.25 L315.42,252.00 L315.82,251.75 L316.23,251.50 L316.64,251.25 L317.05,251.00 L317.45,250.75 L317.86,250.50 L318.27,250.25 L318.68,250.00 L319.08,249.75 L319.49,249.50 L319.90,249.24 L320.31,248.99 L320.71,248.74 L321.12,248.49 L321.53,248.23 L321.65,248.16" stroke="#0f0" stroke-dasharray="4.6 5.8"/>
<path d="M321.65,248.16 L321.94,247.98 L322.35,247.72 L322.75,247.47 L323.16,247.22 L323.57,246.96 L323.98,246.71 L324.38,246.45 L324.79,246.19 L325.20,245.94 L325.61,245.68 L326.01,245.43 L326.42,245.17 L326.83,244.91 L327.24,244.65 L327.64,244.40 L328.05,244.14 L328.46,243.88 L328.87,243.62 L329.27,243.36 L329.68,243.10 L330.09,242.85 L330.50,242.59 L330.90,242.33 L331.31,242.07 L331.72,241.81 L332.13,241.55 L332.53,241.29 L332.94,241.02 L333.35,240.76 L333.76,240.50 L334.16,240.24 L334.57,239.98 L334.98,239.72 L335.39,239.45 L335.79,239.19 L336.20,238.93 L336.61,238.67 L337.02,238.40 L337.42,238.14 L337.83,237.88 L338.24,237.61 L338.65,237.35 L339.06,237.09 L339.46,236.82 L339.87,236.56 L340.28,236.29 L340.69,236.03 L341.09,235.76 L341.50,235.50 L341.91,235.23 L342.32,234.97 L342.72,234.70 L343.13,234.43 L343.54,234.17 L343.95,233.90 L344.35,233.63 L344.76,233.37 L345.17,233.10 L345.58,232.83 L345.98,232.57 L346.39,232.30 L346.80,232.03 L347.21,231.76 L347.61,231.50 L348.02,231.23 L348.43,230.96 L348.84,230.69 L349.24,230.42 L349.65,230.15 L350.06,229.89 L350.47,229.62 L350.87,229.35 L351.28,229.08 L351.69,228.81 L352.10,228.54 L352.50,228.27 L352.91,228.00 L353.32,227.73 L353.73,227.46 L354.14,227.19 L354.54,226.92 L354.95,226.65 L355.36,226.38 L355.77,226.11 L356.17,225.84 L356.58,225.57 L356.99,225.30 L357.40,225.03 L357.80,224.76 L358.21,224.48 L358.62,224.21 L359.03,223.94 L359.43,223.67 L359.84,223.40 L360.25,223.13 L360.66,222.86 L361.06,222.58 L361.47,222.31 L361.88,222.04 L362.29,221.77 L362.69,221.50 L363.10,221.22 L363.51,220.95 L363.92,220.68 L364.32,220.41 L364.73,220.14 L365.14,219.86 L365.55,219.59 L365.95,219.32 L366.36,219.05 L366.77,218.77 L367.18,218.50 L367.58,218.23 L367.99,217.95 L368.40,217.68 L368.81,217.41 L369.21,217.14 L369.62,216.86 L370.03,216.59 L370.44,216.32 L370.85,216.04 L371.25,215.77 L371.66,215.50 L372.07,215.22 L372.48,214.95 L372.88,214.68 L373.29,214.41 L373.70,214.13 L374.11,213.86 L374.51,213.59 L374.92,213.31 L375.33,213.04 L375.74,212.77 L376.14,212.49 L376.55,212.22 L376.96,211.95 L377.37,211.67 L377.77,211.40 L378.18,211.13 L378.59,210.86 L379.00,210.58 L379.40,210.31 L379.81,210.04 L380.22,209.76 L380.63,209.49 L381.03,209.22 L381.44,208.94 L381.85,208.67 L382.26,208.40 L382.66,208.13 L383.07,207.85 L383.48,207.58 L383.89,207.31 L384.29,207.04 L384.70,206.76 L385.11,206.49 L385.52,206.22 L385.93,205.95 L386.33,205.67 L386.74,205.40 L387.15,205.13 L387.56,204.86 L387.96,204.58 L388.37,204.31 L388.78,204.04 L389.19,203.77 L389.59,203.50 L390.00,203.23 L390.41,202.95 L390.82,202.68 L391.22,202.41 L391.63,202.14 L392.04,201.87 L392.45,201.60 L392.85,201.33 L393.26,201.05 L393.67,200.78 L394.08,200.51 L394.48,200.24 L394.89,199.97 L395.30,199.70 L395.71,199.43 L396.11,199.16 L396.30,199.04" stroke="#0f0" stroke-dasharray="4.6 5.8"/>
<path d="M396.30,199.04 L396.52,198.89 L396.93,198.62 L397.34,198.35 L397.74,198.08 L398.15,197.81 L398.56,197.54 L398.97,197.27 L399.37,197.00 L399.78,196.73 L400.19,196.47 L400.60,196.20 L401.00,195.93 L401.41,195.66 L401.82,195.39 L402.23,195.12 L402.64,194.85 L403.04,194.59 L403.45,194.32 L403.86,194.05 L404.27,193.78 L404.67,193.52 L405.08,193.25 L405.49,192.98 L405.90,192.72 L406.30,192.45 L406.71,192.18 L407.12,191.92 L407.53,191.65 L407.93,191.38 L408.34,191.12 L408.75,190.85 L409.16,190.59 L409.56,190.32 L409.97,190.06 L410.38,189.79 L410.79,189.53 L411.19,189.26 L411.60,189.00 L412.01,188.73 L412.42,188.47 L412.82,188.21 L413.23,187.94 L413.64,187.68 L414.05,187.42 L414.45,187.15 L414.86,186.89 L415.27,186.63 L415.68,186.37 L416.08,186.11 L416.49,185.84 L416.90,185.58 L417.31,185.32 L417.72,185.06 L418.12,184.80 L418.53,184.54 L418.94,184.28 L419.35,184.02 L419.75,183.76 L420.16,183.50 L420.57,183.24 L420.98,182.98 L421.38,182.72 L421.79,182.46 L422.20,182.21 L422.61,181.95 L423.01,181.69 L423.42,181.43 L423.83,181.17 L424.24,180.92 L424.64,180.66 L425.05,180.40 L425.46,180.15 L425.87,179.89 L426.27,179.64 L426.68,179.38 L427.09,179.13 L427.50,178.87 L427.90,178.62 L428.31,178.36 L428.72,178.11 L429.13,177.86 L429.53,177.60 L429.94,177.35 L430.35,177.10 L430.76,176.84 L431.16,176.59 L431.57,176.34 L431.98,176.09 L432.39,175.84 L432.79,175.59 L433.20,175.34 L433.61,175.09 L434.02,174.84 L434.43,174.59 L434.83,174.34 L435.24,174.09 L435.65,173.84 L436.06,173.59 L436.46,173.35 L436.87,173.10 L437.28,172.85 L437.69,172.60 L438.09,172.36 L438.50,172.11 L438.91,171.87 L439.32,171.62 L439.72,171.37 L440.13,171.13 L440.54,170.89 L440.95,170.64 L441.35,170.40 L441.76,170.15 L442.17,169.91 L442.58,169.67 L442.98,169.43 L443.39,169.19 L443.80,168.94 L444.21,168.70 L444.61,168.46 L445.02,168.22 L445.43,167.98 L445.84,167.74 L446.24,167.50 L446.65,167.27 L447.06,167.03 L447.47,166.79 L447.87,166.55 L448.28,166.31 L448.69,166.08 L449.10,165.84 L449.51,165.61 L449.91,165.37 L450.32,165.14 L450.73,164.90 L451.14,164.67 L451.54,164.43 L451.95,164.20 L452.36,163.97 L452.77,163.73 L453.17,163.50 L453.58,163.27 L453.99,163.04 L454.40,162.81 L454.80,162.58 L455.21,162.35 L455.62,162.12 L456.03,161.89 L456.43,161.66 L456.84,161.43 L457.25,161.21 L457.66,160.98 L458.06,160.75 L458.47,160.52 L458.88,160.30 L459.29,160.07 L459.69,159.85 L460.10,159.62 L460.51,159.40 L460.92,159.18 L461.32,158.95 L461.73,158.73 L462.14,158.51 L462.55,158.29 L462.95,158.07 L463.36,157.85 L463.77,157.63 L464.18,157.41 L464.58,157.19 L464.99,156.97 L465.40,156.75" stroke="#0f0" stroke-dasharray="4.6 5.8"/>
<path d="M99.00,291.15 L99.41,291.15 L99.82,291.15 L100.22,291.15 L100.63,291.15 L101.04,291.15 L101.45,291.15 L101.85,291.15 L102.26,291.15 L102.67,291.15 L103.08,291.15 L103.48,291.15 L103.89,291.15 L104.30,291.15 L104.71,291.15 L105.11,291.15 L105.52,291.15 L105.93,291.15 L106.34,291.15 L106.74,291.15 L107.15,291.15 L107.56,291.15 L107.97,291.15 L108.37,291.15 L108.78,291.15 L109.19,291.15 L109.60,291.15 L110.00,291.15 L110.41,291.15 L110.82,291.15 L111.23,291.15 L111.63,291.15 L112.04,291.15 L112.45,291.15 L112.86,291.15 L113.26,291.15 L113.67,291.15 L114.08,291.15 L114.49,291.15 L114.89,291.15 L115.30,291.15 L115.71,291.15 L116.12,291.15 L116.53,291.15 L116.93,291.15 L117.34,291.15 L117.75,291.15 L118.16,291.15 L118.56,291.15 L118.97,291.15 L119.38,291.15 L119.79,291.15 L120.19,291.15 L120.60,291.15 L121.01,291.15 L121.42,291.15 L121.82,291.15 L122.23,291.15 L122.64,291.15 L123.05,291.15 L123.45,291.15 L123.86,291.15 L124.27,291.15 L124.68,291.15 L125.08,291.15 L125.49,291.15 L125.90,291.15 L126.31,291.15 L126.71,291.15 L127.12,291.15 L127.53,291.15 L127.94,291.15 L128.34,291.15 L128.75,291.15 L129.16,291.15 L129.57,291.15 L129.97,291.15 L130.38,291.15 L130.79,291.15 L131.20,291.15 L131.61,291.15 L132.01,291.15 L132.42,291.15 L132.83,291.15 L133.24,291.15 L133.64,291.15 L134.05,291.15 L134.46,291.15 L134.87,291.15 L135.27,291.15 L135.68,291.15 L136.09,291.15 L136.50,291.15 L136.90,291.15 L137.31,291.15 L137.72,291.15 L138.13,291.15 L138.53,291.15 L138.94,291.15 L139.35,291.15 L139.76,291.15 L140.16,291.15 L140.57,291.15 L140.98,291.15 L141.39,291.15 L141.79,291.15 L142.20,291.15 L142.61,291.15 L143.02,291.15 L143.42,291.15 L143.83,291.15 L144.24,291.15 L144.65,291.15 L145.05,291.15 L145.46,291.15 L145.87,291.15 L146.28,291.15 L146.68,291.15 L147.09,291.15 L147.50,291.15 L147.91,291.15 L148.32,291.15 L148.72,291.15 L149.13,291.15 L149.54,291.15 L149.95,291.15 L150.35,291.15 L150.76,291.15 L151.17,291.15 L151.58,291.15 L151.98,291.15 L152.39,291.15 L152.80,291.15 L153.21,291.15 L153.61,291.15 L154.02,291.15 L154.43,291.15 L154.84,291.15 L155.24,291.07 L155.65,291.07 L156.06,291.08 L156.47,291.08 L156.87,291.09 L157.28,291.09 L157.69,291.10 L158.10,291.10 L158.50,291.11 L158.91,291.12 L159.32,291.12 L159.73,291.13 L160.13,291.14 L160.54,291.15 L160.95,291.15 L161.36,291.15 L161.76,291.15 L162.17,291.15 L162.58,291.15 L162.99,291.15 L163.40,291.15 L163.80,291.15 L164.21,291.15 L164.62,291.15 L165.03,291.15 L165.43,291.15 L165.84,291.15 L166.25,291.15 L166.66,291.15 L167.06,291.15 L167.47,291.15 L167.88,291.15 L168.29,291.15 L168.69,291.15 L169.10,291.15 L169.51,291.15 L169.92,291.15 L170.32,291.15 L170.73,291.15 L171.14,291.15 L171.55,291.15 L171.95,291.15 L172.20,291.15" stroke="#00f" stroke-dasharray="6.7 5.7 2.5 5.9"/>
<path d="M172.20,291.15 L172.36,291.15 L172.77,291.15 L173.18,291.15 L173.58,291.15 L173.99,291.15 L174.40,291.15 L174.81,291.15 L175.21,291.15 L175.62,291.15 L176.03,291.15 L176.44,291.15 L176.84,291.15 L177.25,291.15 L177.66,291.15 L178.07,291.15 L178.47,291.15 L178.88,291.15 L179.29,291.15 L179.70,291.13 L180.11,291.11 L180.51,291.09 L180.92,291.07 L181.33,291.05 L181.74,291.02 L182.14,291.00 L182.55,290.97 L182.96,290.94 L183.37,290.91 L183.77,290.88 L184.18,290.84 L184.59,290.81 L185.00,290.77 L185.40,290.73 L185.81,290.70 L186.22,290.65 L186.63,290.61 L187.03,290.57 L187.44,290.52 L187.85,290.47 L188.26,290.42 L188.66,290.37 L189.07,290.32 L189.48,290.26 L189.89,290.20 L190.29,290.14 L190.70,290.08 L191.11,290.02 L191.52,289.95 L191.92,289.88 L192.33,289.82 L192.74,289.74 L193.15,289.67 L193.55,289.59 L193.96,289.51 L194.37,289.43 L194.78,289.35 L195.19,289.27 L195.59,289.18 L196.00,289.09 L196.41,289.00 L196.82,288.90 L197.22,288.80 L197.63,288.70 L198.04,288.60 L198.45,288.50 L198.85,288.39 L199.26,288.28 L199.67,288.17 L200.08,288.06 L200.48,287.95 L200.89,287.83 L201.30,287.71 L201.71,287.59 L202.11,287.47 L202.52,287.34 L202.93,287.21 L203.34,287.09 L203.74,286.95 L204.15,286.82 L204.56,286.69 L204.97,286.55 L205.37,286.41 L205.78,286.27 L206.19,286.13 L206.60,285.99 L207.00,285.84 L207.41,285.70 L207.82,285.55 L208.23,285.40 L208.63,285.25 L209.04,285.09 L209.45,284.94 L209.86,284.78 L210.26,284.63 L210.67,284.47 L211.08,284.31 L211.49,284.15 L211.90,283.98 L212.30,283.82 L212.71,283.65 L213.12,283.49 L213.53,283.32 L213.93,283.15 L214.34,282.98 L214.75,282.81 L215.16,282.63 L215.56,282.46 L215.97,282.29 L216.38,282.11 L216.79,281.93 L217.19,281.75 L217.60,281.58 L218.01,281.40 L218.42,281.21 L218.82,281.03 L219.23,280.85 L219.64,280.66 L220.05,280.48 L220.45,280.29 L220.86,280.11 L221.27,279.92 L221.68,279.73 L222.08,279.54 L222.49,279.35 L222.90,279.16 L223.31,278.96 L223.71,278.77 L224.12,278.57 L224.53,278.38 L224.94,278.18 L225.34,277.98 L225.75,277.78 L226.16,277.58 L226.57,277.38 L226.98,277.18 L227.38,276.98 L227.79,276.78 L228.20,276.57 L228.61,276.37 L229.01,276.16 L229.42,275.95 L229.83,275.75 L230.24,275.54 L230.64,275.33 L231.05,275.12 L231.46,274.91 L231.87,274.69 L232.27,274.48 L232.68,274.27 L233.09,274.05 L233.50,273.83 L233.90,273.62 L234.31,273.40 L234.72,273.18 L235.13,272.96 L235.53,272.74 L235.94,272.52 L236.35,272.30 L236.76,272.08 L237.16,271.85 L237.57,271.63 L237.98,271.41 L238.39,271.18 L238.79,270.95 L239.20,270.73 L239.61,270.50 L240.02,270.27 L240.42,270.04 L240.83,269.81 L241.24,269.58 L241.65,269.35 L242.05,269.11 L242.46,268.88 L242.87,268.65 L243.28,268.41 L243.69,268.18 L244.09,267.94 L244.50,267.70 L244.91,267.46 L245.32,267.23 L245.72,266.99 L246.13,266.75 L246.54,266.50 L246.95,266.26 L247.00,266.23" stroke="#00f" stroke-dasharray="6.7 5.7 2.5 5.9"/>
<path d="M247.00,266.23 L247.35,266.02 L247.76,265.78 L248.17,265.53 L248.58,265.29 L248.98,265.05 L249.39,264.80 L249.80,264.55 L250.21,264.31 L250.61,264.06 L251.02,263.81 L251.43,263.56 L251.84,263.31 L252.24,263.06 L252.65,262.81 L253.06,262.56 L253.47,262.31 L253.87,262.06 L254.28,261.80 L254.69,261.55 L255.10,261.29 L255.50,261.04 L255.91,260.78 L256.32,260.53 L256.73,260.27 L257.13,260.01 L257.54,259.75 L257.95,259.50 L258.36,259.24 L258.77,258.98 L259.17,258.72 L259.58,258.46 L259.99,258.19 L260.40,257.93 L260.80,257.67 L261.21,257.41 L261.62,257.14 L262.03,256.88 L262.43,256.61 L262.84,256.35 L263.25,256.08 L263.66,255.82 L264.06,255.55 L264.47,255.28 L264.88,255.01 L265.29,254.75 L265.69,254.48 L266.10,254.21 L266.51,253.94 L266.92,253.67 L267.32,253.40 L267.73,253.13 L268.14,252.85 L268.55,252.58 L268.95,252.31 L269.36,252.04 L269.77,251.76 L270.18,251.49 L270.58,251.22 L270.99,250.94 L271.40,250.67 L271.81,250.39 L272.21,250.11 L272.62,249.84 L273.03,249.56 L273.44,249.28 L273.84,249.01 L274.25,248.73 L274.66,248.45 L275.07,248.17 L275.48,247.89 L275.88,247.61 L276.29,247.33 L276.70,247.05 L277.11,246.77 L277.51,246.49 L277.92,246.21 L278.33,245.93 L278.74,245.65 L279.14,245.36 L279.55,245.08 L279.96,244.80 L280.37,244.51 L280.77,244.23 L281.18,243.95 L281.59,243.66 L282.00,243.38 L282.40,243.09 L282.81,242.81 L283.22,242.52 L283.63,242.24 L284.03,241.95 L284.44,241.66 L284.85,241.38 L285.26,241.09 L285.66,240.80 L286.07,240.52 L286.48,240.23 L286.89,239.94 L287.29,239.65 L287.70,239.37 L288.11,239.08 L288.52,238.79 L288.92,238.50 L289.33,238.21 L289.74,237.92 L290.15,237.63 L290.56,237.34 L290.96,237.05 L291.37,236.76 L291.78,236.47 L292.19,236.18 L292.59,235.89 L293.00,235.60 L293.41,235.31 L293.82,235.01 L294.22,234.72 L294.63,234.43 L295.04,234.14 L295.45,233.85 L295.85,233.56 L296.26,233.26 L296.67,232.97 L297.08,232.68 L297.48,232.39 L297.89,232.09 L298.30,231.80 L298.71,231.51 L299.11,231.21 L299.52,230.92 L299.93,230.63 L300.34,230.33 L300.74,230.04 L301.15,229.75 L301.56,229.45 L301.97,229.16 L302.37,228.86 L302.78,228.57 L303.19,228.28 L303.60,227.98 L304.00,227.69 L304.41,227.39 L304.82,227.10 L305.23,226.80 L305.63,226.51 L306.04,226.22 L306.45,225.92 L306.86,225.63 L307.27,225.33 L307.67,225.04 L308.08,224.74 L308.49,224.45 L308.90,224.15 L309.30,223.86 L309.71,223.56 L310.12,223.27 L310.53,222.97 L310.93,222.67 L311.34,222.38 L311.75,222.08 L312.16,221.79 L312.56,221.49 L312.97,221.20 L313.38,220.90 L313.79,220.60 L314.19,220.31 L314.60,220.01 L315.01,219.72 L315.42,219.42 L315.82,219.12 L316.23,218.83 L316.64,218.53 L317.05,218.23 L317.45,217.94 L317.86,217.64 L318.27,217.34 L318.68,217.05 L319.08,216.75 L319.49,216.45 L319.90,216.16 L320.31,215.86 L320.71,215.56 L321.12,215.27 L321.53,214.97 L321.65,214.88" stroke="#00f" stroke-dasharray="6.7 5.7 2.5 5.9"/>
<path d="M321.65,214.88 L321.94,214.67 L322.35,214.38 L322.75,214.08 L323.16,213.78 L323.57,213.48 L323.98,213.19 L324.38,212.89 L324.79,212.59 L325.20,212.29 L325.61,212.00 L326.01,211.70 L326.42,211.40 L326.83,211.10 L327.24,210.81 L327.64,210.51 L328.05,210.21 L328.46,209.91 L328.87,209.62 L329.27,209.32 L329.68,209.02 L330.09,208.72 L330.50,208.42 L330.90,208.13 L331.31,207.83 L331.72,207.53 L332.13,207.23 L332.53,206.93 L332.94,206.63 L333.35,206.34 L333.76,206.04 L334.16,205.74 L334.57,205.44 L334.98,205.14 L335.39,204.84 L335.79,204.55 L336.20,204.25 L336.61,203.95 L337.02,203.65 L337.42,203.35 L337.83,203.05 L338.24,202.75 L338.65,202.46 L339.06,202.16 L339.46,201.86 L339.87,201.56 L340.28,201.26 L340.69,200.96 L341.09,200.66 L341.50,200.36 L341.91,200.07 L342.32,199.77 L342.72,199.47 L343.13,199.17 L343.54,198.87 L343.95,198.57 L344.35,198.27 L344.76,197.97 L345.17,197.67 L345.58,197.38 L345.98,197.08 L346.39,196.78 L346.80,196.48 L347.21,196.18 L347.61,195.88 L348.02,195.58 L348.43,195.28 L348.84,194.98 L349.24,194.68 L349.65,194.39 L350.06,194.09 L350.47,193.79 L350.87,193.49 L351.28,193.19 L351.69,192.89 L352.10,192.59 L352.50,192.29 L352.91,191.99 L353.32,191.69 L353.73,191.39 L354.14,191.10 L354.54,190.80 L354.95,190.50 L355.36,190.20 L355.77,189.90 L356.17,189.60 L356.58,189.30 L356.99,189.00 L357.40,188.70 L357.80,188.40 L358.21,188.10 L358.62,187.80 L359.03,187.51 L359.43,187.21 L359.84,186.91 L360.25,186.61 L360.66,186.31 L361.06,186.01 L361.47,185.71 L361.88,185.41 L362.29,185.11 L362.69,184.81 L363.10,184.52 L363.51,184.22 L363.92,183.92 L364.32,183.62 L364.73,183.32 L365.14,183.02 L365.55,182.72 L365.95,182.42 L366.36,182.12 L366.77,181.83 L367.18,181.53 L367.58,181.23 L367.99,180.93 L368.40,180.63 L368.81,180.33 L369.21,180.03 L369.62,179.73 L370.03,179.44 L370.44,179.14 L370.85,178.84 L371.25,178.54 L371.66,178.24 L372.07,177.94 L372.48,177.64 L372.88,177.35 L373.29,177.05 L373.70,176.75 L374.11,176.45 L374.51,176.15 L374.92,175.85 L375.33,175.56 L375.74,175.26 L376.14,174.96 L376.55,174.66 L376.96,174.36 L377.37,174.07 L377.77,173.77 L378.18,173.47 L378.59,173.17 L379.00,172.87 L379.40,172.58 L379.81,172.28 L380.22,171.98 L380.63,171.68 L381.03,171.38 L381.44,171.09 L381.85,170.79 L382.26,170.49 L382.66,170.19 L383.07,169.90 L383.48,169.60 L383.89,169.30 L384.29,169.00 L384.70,168.71 L385.11,168.41 L385.52,168.11 L385.93,167.81 L386.33,167.52 L386.74,167.22 L387.15,166.92 L387.56,166.63 L387.96,166.33 L388.37,166.03 L388.78,165.74 L389.19,165.44 L389.59,165.14 L390.00,164.85 L390.41,164.55 L390.82,164.25 L391.22,163.96 L391.63,163.66 L392.04,163.36 L392.45,163.07 L392.85,162.77 L393.26,162.47 L393.67,162.18 L394.08,161.88 L394.48,161.59 L394.89,161.29 L395.30,160.99 L395.71,160.70 L396.11,160.40 L396.30,160.27" stroke="#00f" stroke-dasharray="6.7 5.7 2.5 5.9"/>
<path d="M396.30,160.27 L396.52,160.11 L396.93,159.81 L397.34,159.52 L397.74,159.22 L398.15,158.92 L398.56,158.63 L398.97,158.33 L399.37,158.04 L399.78,157.74 L400.19,157.45 L400.60,157.15 L401.00,156.86 L401.41,156.56 L401.82,156.27 L402.23,155.97 L402.64,155.68 L403.04,155.39 L403.45,155.09 L403.86,154.80 L404.27,154.50 L404.67,154.21 L405.08,153.91 L405.49,153.62 L405.90,153.33 L406.30,153.03 L406.71,152.74 L407.12,152.44 L407.53,152.15 L407.93,151.86 L408.34,151.56 L408.75,151.27 L409.16,150.98 L409.56,150.68 L409.97,150.39 L410.38,150.10 L410.79,149.80 L411.19,149.51 L411.60,149.22 L412.01,148.93 L412.42,148.63 L412.82,148.34 L413.23,148.05 L413.64,147.76 L414.05,147.46 L414.45,147.17 L414.86,146.88 L415.27,146.59 L415.68,146.30 L416.08,146.00 L416.49,145.71 L416.90,145.42 L417.31,145.13 L417.72,144.84 L418.12,144.55 L418.53,144.26 L418.94,143.96 L419.35,143.67 L419.75,143.38 L420.16,143.09 L420.57,142.80 L420.98,142.51 L421.38,142.22 L421.79,141.93 L422.20,141.64 L422.61,141.35 L423.01,141.06 L423.42,140.77 L423.83,140.48 L424.24,140.19 L424.64,139.90 L425.05,139.61 L425.46,139.32 L425.87,139.03 L426.27,138.74 L426.68,138.45 L427.09,138.17 L427.50,137.88 L427.90,137.59 L428.31,137.30 L428.72,137.01 L429.13,136.72 L429.53,136.43 L429.94,136.15 L430.35,135.86 L430.76,135.57 L431.16,135.28 L431.57,134.99 L431.98,134.71 L432.39,134.42 L432.79,134.13 L433.20,133.85 L433.61,133.56 L434.02,133.27 L434.43,132.98 L434.83,132.70 L435.24,132.41 L435.65,132.13 L436.06,131.84 L436.46,131.55 L436.87,131.27 L437.28,130.98 L437.69,130.70 L438.09,130.41 L438.50,130.12 L438.91,129.84 L439.32,129.55 L439.72,129.27 L440.13,128.98 L440.54,128.70 L440.95,128.41 L441.35,128.13 L441.76,127.85 L442.17,127.56 L442.58,127.28 L442.98,126.99 L443.39,126.71 L443.80,126.43 L444.21,126.14 L444.61,125.86 L445.02,125.58 L445.43,125.29 L445.84,125.01 L446.24,124.73 L446.65,124.44 L447.06,124.16 L447.47,123.88 L447.87,123.60 L448.28,123.31 L448.69,123.03 L449.10,122.75 L449.51,122.47 L449.91,122.19 L450.32,121.91 L450.73,121.63 L451.14,121.34 L451.54,121.06 L451.95,120.78 L452.36,120.50 L452.77,120.22 L453.17,119.94 L453.58,119.66 L453.99,119.38 L454.40,119.10 L454.80,118.82 L455.21,118.54 L455.62,118.26 L456.03,117.98 L456.43,117.70 L456.84,117.43 L457.25,117.15 L457.66,116.87 L458.06,116.59 L458.47,116.31 L458.88,116.03 L459.29,115.76 L459.69,115.48 L460.10,115.20 L460.51,114.92 L460.92,114.65 L461.32,114.37 L461.73,114.09 L462.14,113.82 L462.55,113.54 L462.95,113.26 L463.36,112.99 L463.77,112.71 L464.18,112.44 L464.58,112.16 L464.99,111.88 L465.40,111.61" stroke="#00f" stroke-dasharray="6.7 5.7 2.5 5.9"/>
<path d="M99.00,291.11 L99.41,291.11 L99.82,291.11 L100.22,291.11 L100.63,291.10 L101.04,291.10 L101.45,291.10 L101.85,291.10 L102.26,291.10 L102.67,291.10 L103.08,291.10 L103.48,291.10 L103.89,291.10 L104.30,291.11 L104.71,291.11 L105.11,291.11 L105.52,291.11 L105.93,291.11 L106.34,291.12 L106.74,291.12 L107.15,291.13 L107.56,291.13 L107.97,291.13 L108.37,291.14 L108.78,291.15 L109.19,291.15 L109.60,291.15 L110.00,291.15 L110.41,291.15 L110.82,291.15 L111.23,291.15 L111.63,291.15 L112.04,291.15 L112.45,291.15 L112.86,291.15 L113.26,291.15 L113.67,291.15 L114.08,291.15 L114.49,291.15 L114.89,291.15 L115.30,291.15 L115.71,291.15 L116.12,291.15 L116.53,291.15 L116.93,291.15 L117.34,291.15 L117.75,291.15 L118.16,291.15 L118.56,291.15 L118.97,291.15 L119.38,291.15 L119.79,291.15 L120.19,291.15 L120.60,291.15 L121.01,291.15 L121.42,291.15 L121.82,291.15 L122.23,291.15 L122.64,291.15 L123.05,291.15 L123.45,291.15 L123.86,291.15 L124.27,291.15 L124.68,291.15 L125.08,291.15 L125.49,291.15 L125.90,291.15 L126.31,291.15 L126.71,291.14 L127.12,291.12 L127.53,291.10 L127.94,291.07 L128.34,291.04 L128.75,291.01 L129.16,290.97 L129.57,290.94 L129.97,290.90 L130.38,290.86 L130.79,290.82 L131.20,290.77 L131.61,290.73 L132.01,290.68 L132.42,290.63 L132.83,290.57 L133.24,290.52 L133.64,290.46 L134.05,290.41 L134.46,290.35 L134.87,290.28 L135.27,290.22 L135.68,290.15 L136.09,290.08 L136.50,290.01 L136.90,289.94 L137.31,289.87 L137.72,289.79 L138.13,289.72 L138.53,289.64 L138.94,289.56 L139.35,289.47 L139.76,289.39 L140.16,289.30 L140.57,289.21 L140.98,289.12 L141.39,289.03 L141.79,288.94 L142.20,288.84 L142.61,288.74 L143.02,288.65 L143.42,288.54 L143.83,288.44 L144.24,288.34 L144.65,288.23 L145.05,288.13 L145.46,288.02 L145.87,287.91 L146.28,287.79 L146.68,287.68 L147.09,287.57 L147.50,287.45 L147.91,287.33 L148.32,287.21 L148.72,287.09 L149.13,286.97 L149.54,286.84 L149.95,286.71 L150.35,286.59 L150.76,286.46 L151.17,286.33 L151.58,286.19 L151.98,286.06 L152.39,285.92 L152.80,285.79 L153.21,285.65 L153.61,285.51 L154.02,285.37 L154.43,285.22 L154.84,285.08 L155.24,284.93 L155.65,284.78 L156.06,284.64 L156.47,284.49 L156.87,284.33 L157.28,284.18 L157.69,284.03 L158.10,283.87 L158.50,283.71 L158.91,283.55 L159.32,283.39 L159.73,283.23 L160.13,283.07 L160.54,282.90 L160.95,282.74 L161.36,282.57 L161.76,282.40 L162.17,282.23 L162.58,282.06 L162.99,281.89 L163.40,281.72 L163.80,281.54 L164.21,281.36 L164.62,281.19 L165.03,281.01 L165.43,280.83 L165.84,280.65 L166.25,280.46 L166.66,280.28 L167.06,280.09 L167.47,279.91 L167.88,279.72 L168.29,279.53 L168.69,279.34 L169.10,279.15 L169.51,278.96 L169.92,278.76 L170.32,278.57 L170.73,278.37 L171.14,278.17 L171.55,277.97 L171.95,277.77 L172.36,277.57 L172.77,277.37 L173.18,277.17 L173.58,276.96 L173.99,276.76 L174.40,276.55 L174.81,276.34 L175.21,276.13 L175.62,275.92 L176.03,275.71 L176.44,275.50 L176.84,275.29 L177.25,275.07 L177.66,274.86 L178.07,274.64 L178.47,274.42 L178.88,274.21 L179.29,273.99 L179.70,273.77 L180.11,273.54 L180.51,273.32 L180.92,273.10 L181.33,272.87 L181.74,272.65 L182.14,272.42 L182.55,272.19 L182.96,271.96 L183.37,271.73 L183.77,271.50 L184.18,271.27 L184.59,271.04 L185.00,270.81 L185.40,270.57 L185.81,270.34 L186.22,270.10 L186.63,269.86 L187.03,269.63 L187.44,269.39 L187.85,269.15 L188.26,268.91 L188.66,268.67 L189.07,268.42 L189.48,268.18 L189.89,267.94 L190.29,267.69 L190.70,267.45 L191.11,267.20 L191.52,266.95 L191.92,266.70 L192.33,266.45 L192.74,266.21 L193.15,265.95 L193.55,265.70 L193.96,265.45 L194.37,265.20 L194.78,264.94 L195.19,264.69 L195.59,264.44 L196.00,264.18 L196.41,263.92 L196.82,263.67 L197.22,263.41 L197.63,263.15 L198.04,262.89 L198.45,262.63 L198.85,262.37 L199.26,262.11 L199.67,261.84 L200.08,261.58 L200.48,261.32 L200.89,261.05 L201.30,260.79 L201.71,260.52 L202.11,260.26 L202.52,259.99 L202.93,259.72 L203.34,259.46 L203.74,259.19 L204.15,258.92 L204.56,258.65 L204.97,258.38 L205.37,258.11 L205.78,257.84 L206.19,257.56 L206.60,257.29 L207.00,257.02 L207.41,256.74 L207.82,256.47 L208.23,256.20 L208.63,255.92 L209.04,255.64 L209.45,255.37 L209.86,255.09 L210.26,254.81 L210.67,254.54 L211.08,254.26 L211.49,253.98 L211.90,253.70 L212.30,253.42 L212.71,253.14 L213.12,252.86 L213.53,252.58 L213.93,252.30 L214.34,252.02 L214.75,251.74 L215.16,251.45 L215.56,251.17 L215.97,250.89 L216.38,250.60 L216.79,250.32 L217.19,250.04 L217.60,249.75 L218.01,249.47 L218.42,249.18 L218.82,248.90 L219.23,248.61 L219.64,248.32 L220.05,248.04 L220.45,247.75 L220.86,247.46 L221.27,247.17 L221.68,246.89 L222.08,246.60 L222.49,246.31 L222.90,246.02 L223.31,245.73 L223.71,245.44 L224.12,245.15 L224.53,244.86 L224.94,244.57 L225.34,244.28 L225.75,243.99 L226.16,243.70 L226.57,243.41 L226.98,243.12 L227.38,242.83 L227.79,242.54 L228.20,242.25 L228.61,241.96 L229.01,241.67 L229.42,241.37 L229.83,241.08 L230.24,240.79 L230.64,240.50 L231.05,240.20 L231.46,239.91 L231.87,239.62 L232.27,239.32 L232.68,239.03 L233.09,238.74 L233.50,238.44 L233.90,238.15 L234.31,237.85 L234.72,237.56 L235.13,237.26 L235.53,236.97 L235.94,236.67 L236.35,236.38 L236.76,236.08 L237.16,235.79 L237.57,235.49 L237.98,235.20 L238.39,234.90 L238.79,234.60 L239.20,234.31 L239.61,234.01 L240.02,233.71 L240.42,233.42 L240.83,233.12 L241.24,232.82 L241.65,232.53 L242.05,232.23 L242.46,231.93 L242.87,231.63 L243.28,231.34 L243.69,231.04 L244.09,230.74 L244.50,230.44 L244.91,230.14 L245.32,229.84 L245.72,229.55 L246.13,229.25 L246.54,228.95 L246.95,228.65 L247.35,228.35 L247.76,228.05 L248.17,227.75 L248.58,227.45 L248.98,227.15 L249.39,226.85 L249.80,226.55 L250.21,226.25 L250.61,225.95 L251.02,225.65 L251.43,225.35 L251.84,225.05 L252.24,224.75 L252.65,224.45 L253.06,224.15 L253.47,223.85 L253.87,223.55 L254.28,223.24 L254.69,222.94 L255.10,222.64 L255.50,222.34 L255.91,222.04 L256.32,221.74 L256.73,221.44 L257.13,221.13 L257.54,220.83 L257.95,220.53 L258.36,220.23 L258.77,219.93 L259.17,219.62 L259.58,219.32 L259.99,219.02 L260.40,218.72 L260.80,218.41 L261.21,218.11 L261.62,217.81 L262.03,217.51 L262.43,217.20 L262.84,216.90 L263.25,216.60 L263.66,216.29 L264.06,215.99 L264.47,215.69 L264.88,215.39 L265.29,215.08 L265.69,214.78 L266.10,214.48 L266.51,214.17 L266.92,213.87 L267.32,213.57 L267.73,213.26 L268.14,212.96 L268.55,212.65 L268.95,212.35 L269.36,212.05 L269.77,211.74 L270.18,211.44 L270.58,211.14 L270.99,210.83 L271.40,210.53 L271.81,210.22 L272.21,209.92 L272.62,209.62 L273.03,209.31 L273.44,209.01 L273.84,208.70 L274.25,208.40 L274.66,208.10 L275.07,207.79 L275.48,207.49 L275.88,207.18 L276.29,206.88 L276.70,206.58 L277.11,206.27 L277.51,205.97 L277.92,205.66 L278.33,205.36 L278.74,205.06 L279.14,204.75 L279.55,204.45 L279.96,204.14 L280.37,203.84 L280.77,203.54 L281.18,203.23 L281.59,202.93 L282.00,202.62 L282.40,202.32 L282.81,202.02 L283.22,201.71 L283.63,201.41 L284.03,201.10 L284.44,200.80 L284.85,200.50 L285.26,200.19 L285.66,199.89 L286.07,199.58 L286.48,199.28 L286.89,198.98 L287.29,198.67 L287.70,198.37 L288.11,198.07 L288.52,197.76 L288.92,197.46 L289.33,197.15 L289.74,196.85 L290.15,196.55 L290.56,196.24 L290.96,195.94 L291.37,195.64 L291.78,195.33 L292.19,195.03 L292.59,194.73 L293.00,194.42 L293.41,194.12 L293.82,193.82 L294.22,193.52 L294.63,193.21 L295.04,192.91 L295.45,192.61 L295.85,192.30 L296.26,192.00 L296.67,191.70 L297.08,191.40 L297.48,191.09 L297.89,190.79 L298.30,190.49 L298.71,190.19 L299.11,189.89 L299.52,189.58 L299.93,189.28 L300.34,188.98 L300.74,188.68 L301.15,188.38 L301.56,188.08 L301.97,187.77 L302.37,187.47 L302.78,187.17 L303.19,186.87 L303.60,186.57 L304.00,186.27 L304.41,185.97 L304.82,185.67 L305.23,185.36 L305.63,185.06 L306.04,184.76 L306.45,184.46 L306.86,184.16 L307.27,183.86 L307.67,183.56 L308.08,183.26 L308.49,182.96 L308.90,182.66 L309.30,182.36 L309.71,182.06 L310.12,181.76 L310.53,181.46 L310.93,181.16 L311.34,180.86 L311.75,180.56 L312.16,180.26 L312.56,179.96 L312.97,179.66 L313.38,179.36 L313.79,179.06 L314.19,178.76 L314.60,178.46 L315.01,178.16 L315.42,177.86 L315.82,177.57 L316.23,177.27 L316.64,176.97 L317.05,176.67 L317.45,176.37 L317.86,176.07 L318.27,175.77 L318.68,175.47 L319.08,175.17 L319.49,174.87 L319.90,174.58 L320.31,174.28 L320.71,173.98 L321.12,173.68 L321.53,173.38 L321.94,173.08 L322.35,172.78 L322.75,172.48 L323.16,172.19 L323.57,171.89 L323.98,171.59 L324.38,171.29 L324.79,170.99 L325.20,170.69 L325.61,170.39 L326.01,170.10 L326.42,169.80 L326.83,169.50 L327.24,169.20 L327.64,168.90 L328.05,168.61 L328.46,168.31 L328.87,168.01 L329.27,167.71 L329.68,167.41 L330.09,167.11 L330.50,166.82 L330.90,166.52 L331.31,166.22 L331.72,165.92 L332.13,165.62 L332.53,165.33 L332.94,165.03 L333.35,164.73 L333.76,164.43 L334.16,164.13 L334.57,163.83 L334.98,163.54 L335.39,163.24 L335.79,162.94 L336.20,162.64 L336.61,162.34 L337.02,162.05 L337.42,161.75 L337.83,161.45 L338.24,161.15 L338.65,160.85 L339.06,160.56 L339.46,160.26 L339.87,159.96 L340.28,159.66 L340.69,159.36 L341.09,159.07 L341.50,158.77 L341.91,158.47 L342.32,158.17 L342.72,157.87 L343.13,157.57 L343.54,157.28 L343.95,156.98 L344.35,156.68 L344.76,156.38 L345.17,156.08 L345.58,155.78 L345.98,155.49 L346.39,155.19 L346.80,154.89 L347.21,154.59 L347.61,154.29 L348.02,153.99 L348.43,153.70 L348.84,153.40 L349.24,153.10 L349.65,152.80 L350.06,152.50 L350.47,152.20 L350.87,151.90 L351.28,151.60 L351.69,151.31 L352.10,151.01 L352.50,150.71 L352.91,150.41 L353.32,150.11 L353.73,149.81 L354.14,149.51 L354.54,149.21 L354.95,148.91 L355.36,148.62 L355.77,148.32 L356.17,148.02 L356.58,147.72 L356.99,147.42 L357.40,147.12 L357.80,146.82 L358.21,146.52 L358.62,146.22 L359.03,145.92 L359.43,145.62 L359.84,145.33 L360.25,145.03 L360.66,144.73 L361.06,144.43 L361.47,144.13 L361.88,143.83 L362.29,143.53 L362.69,143.23 L363.10,142.93 L363.51,142.63 L363.92,142.33 L364.32,142.03 L364.73,141.73 L365.14,141.43 L365.55,141.13 L365.95,140.83 L366.36,140.53 L366.77,140.23 L367.18,139.93 L367.58,139.63 L367.99,139.33 L368.40,139.03 L368.81,138.73 L369.21,138.43 L369.62,138.13 L370.03,137.83 L370.44,137.53 L370.85,137.23 L371.25,136.93 L371.66,136.63 L372.07,136.33 L372.48,136.03 L372.88,135.73 L373.29,135.43 L373.70,135.13 L374.11,134.83 L374.51,134.53 L374.92,134.23 L375.33,133.93 L375.74,133.63 L376.14,133.33 L376.55,133.03 L376.96,132.73 L377.37,132.43 L377.77,132.13 L378.18,131.83 L378.59,131.53 L379.00,131.23 L379.40,130.93 L379.81,130.63 L380.22,130.33 L380.63,130.03 L381.03,129.73 L381.44,129.43 L381.85,129.12 L382.26,128.82 L382.66,128.52 L383.07,128.22 L383.48,127.92 L383.89,127.62 L384.29,127.32 L384.70,127.02 L385.11,126.72 L385.52,126.42 L385.93,126.12 L386.33,125.82 L386.74,125.51 L387.15,125.21 L387.56,124.91 L387.96,124.61 L388.37,124.31 L388.78,124.01 L389.19,123.71 L389.59,123.41 L390.00,123.11 L390.41,122.80 L390.82,122.50 L391.22,122.20 L391.63,121.90 L392.04,121.60 L392.45,121.30 L392.85,121.00 L393.26,120.70 L393.67,120.39 L394.08,120.09 L394.48,119.79 L394.89,119.49 L395.30,119.19 L395.71,118.89 L396.11,118.59 L396.52,118.28 L396.93,117.98 L397.34,117.68 L397.74,117.38 L398.15,117.08 L398.56,116.78 L398.97,116.47 L399.37,116.17 L399.78,115.87 L400.19,115.57 L400.60,115.27 L401.00,114.96 L401.41,114.66 L401.82,114.36 L402.23,114.06 L402.64,113.76 L403.04,113.46 L403.45,113.15 L403.86,112.85 L404.27,112.55 L404.67,112.25 L405.08,111.95 L405.49,111.64 L405.90,111.34 L406.30,111.04 L406.71,110.74 L407.12,110.43 L407.53,110.13 L407.93,109.83 L408.34,109.53 L408.75,109.23 L409.16,108.92 L409.56,108.62 L409.97,108.32 L410.38,108.02 L410.79,107.71 L411.19,107.41 L411.60,107.11 L412.01,106.81 L412.42,106.50 L412.82,106.20 L413.23,105.90 L413.64,105.60 L414.05,105.29 L414.45,104.99 L414.86,104.69 L415.27,104.39 L415.68,104.08 L416.08,103.78 L416.49,103.48 L416.90,103.18 L417.31,102.87 L417.72,102.57 L418.12,102.27 L418.53,101.96 L418.94,101.66 L419.35,101.36 L419.75,101.06 L420.16,100.75 L420.57,100.45 L420.98,100.15 L421.38,99.84 L421.79,99.54 L422.20,99.24 L422.61,98.93 L423.01,98.63 L423.42,98.33 L423.83,98.03 L424.24,97.72 L424.64,97.42 L425.05,97.12 L425.46,96.81 L425.87,96.51 L426.27,96.21 L426.68,95.90 L427.09,95.60 L427.50,95.30 L427.90,94.99 L428.31,94.69 L428.72,94.39 L429.13,94.08 L429.53,93.78 L429.94,93.48 L430.35,93.17 L430.76,92.87 L431.16,92.57 L431.57,92.26 L431.98,91.96 L432.39,91.66 L432.79,91.35 L433.20,91.05 L433.61,90.74 L434.02,90.44 L434.43,90.14 L434.83,89.83 L435.24,89.53 L435.65,89.23 L436.06,88.92 L436.46,88.62 L436.87,88.31 L437.28,88.01 L437.69,87.71 L438.09,87.40 L438.50,87.10 L438.91,86.80 L439.32,86.49 L439.72,86.19 L440.13,85.88 L440.54,85.58 L440.95,85.28 L441.35,84.97 L441.76,84.67 L442.17,84.36 L442.58,84.06 L442.98,83.76 L443.39,83.45 L443.80,83.15 L444.21,82.84 L444.61,82.54 L445.02,82.23 L445.43,81.93 L445.84,81.63 L446.24,81.32 L446.65,81.02 L447.06,80.71 L447.47,80.41 L447.87,80.10 L448.28,79.80 L448.69,79.50 L449.10,79.19 L449.51,78.89 L449.91,78.58 L450.32,78.28 L450.73,77.97 L451.14,77.67 L451.54,77.36 L451.95,77.06 L452.36,76.76 L452.77,76.45 L453.17,76.15 L453.58,75.84 L453.99,75.54 L454.40,75.23 L454.80,74.93 L455.21,74.62 L455.62,74.32 L456.03,74.01 L456.43,73.71 L456.84,73.40 L457.25,73.10 L457.66,72.79 L458.06,72.49 L458.47,72.19 L458.88,71.88 L459.29,71.58 L459.69,71.27 L460.10,70.97 L460.51,70.66 L460.92,70.36 L461.32,70.05 L461.73,69.75 L462.14,69.44 L462.55,69.14 L462.95,68.83 L463.36,68.53 L463.77,68.22 L464.18,67.92 L464.58,67.61 L464.99,67.30 L465.40,67.00" stroke="#f0f"/>
<path d="M99.00,291.15 L99.61,290.80 L100.22,290.36 L100.84,289.92 L101.45,289.48 L102.06,289.04 L102.67,288.61 L103.28,288.17 L103.89,287.73 L104.51,287.29 L105.12,286.86 L105.73,286.42 L106.34,285.98 L106.95,285.54 L107.56,285.11 L108.18,284.67 L108.79,284.23 L109.40,283.79 L110.01,283.36 L110.62,282.92 L111.23,282.48 L111.85,282.05 L112.46,281.61 L113.07,281.17 L113.68,280.74 L114.29,280.30 L114.90,279.86 L115.52,279.43 L116.13,278.99 L116.74,278.55 L117.35,278.12 L117.96,277.68 L118.57,277.24 L119.19,276.81 L119.80,276.37 L120.41,275.93 L121.02,275.50 L121.63,275.06 L122.24,274.63 L122.86,274.19 L123.47,273.75 L124.08,273.32 L124.69,272.88 L125.30,272.45 L125.91,272.01 L126.53,271.58 L127.14,271.14 L127.75,270.70 L128.36,270.27 L128.97,269.83 L129.58,269.40 L130.20,268.96 L130.81,268.53 L131.42,268.09 L132.03,267.66 L132.64,267.22 L133.25,266.79 L133.87,266.35 L134.48,265.92 L135.09,265.48 L135.70,265.05 L136.31,264.61 L136.92,264.18 L137.54,263.74 L138.15,263.31 L138.76,262.87 L139.37,262.44 L139.98,262.00 L140.59,261.57 L141.21,261.13 L141.82,260.70 L142.43,260.26 L143.04,259.83 L143.65,259.39 L144.26,258.96 L144.88,258.52 L145.49,258.09 L146.10,257.66 L146.71,257.22 L147.32,256.79 L147.93,256.35 L148.55,255.92 L149.16,255.48 L149.77,255.05 L150.38,254.62 L150.99,254.18 L151.61,253.75 L152.22,253.31 L152.83,252.88 L153.44,252.44 L154.05,252.01 L154.66,251.58 L155.28,251.14 L155.89,250.71 L156.50,250.27 L157.11,249.84 L157.72,249.41 L158.33,248.97 L158.95,248.54 L159.56,248.11 L160.17,247.67 L160.78,247.24 L161.39,246.81 L162.00,246.37 L162.62,245.94 L163.23,245.50 L163.84,245.07 L164.45,244.64 L165.06,244.20 L165.67,243.77 L166.29,243.34 L166.90,242.90 L167.51,242.47 L168.12,242.04 L168.73,241.60 L169.34,241.17 L169.96,240.74 L170.57,240.30 L171.18,239.87 L171.79,239.44 L172.20,239.15" stroke="#0ff" stroke-dasharray="8.6 3.9"/>
<path d="M172.20,239.15 L172.40,239.00 L173.01,238.57 L173.63,238.14 L174.24,237.70 L174.85,237.27 L175.46,236.84 L176.07,236.40 L176.68,235.97 L177.30,235.54 L177.91,235.11 L178.52,234.67 L179.13,234.24 L179.74,233.81 L180.35,233.37 L180.97,232.94 L181.58,232.51 L182.19,232.07 L182.80,231.64 L183.41,231.21 L184.02,230.78 L184.64,230.34 L185.25,229.91 L185.86,229.48 L186.47,229.04 L187.08,228.61 L187.69,228.18 L188.31,227.75 L188.92,227.31 L189.53,226.88 L190.14,226.45 L190.75,226.01 L191.36,225.58 L191.98,225.15 L192.59,224.72 L193.20,224.28 L193.81,223.85 L194.42,223.42 L195.03,222.99 L195.65,222.55 L196.26,222.12 L196.87,221.69 L197.48,221.25 L198.09,220.82 L198.70,220.39 L199.32,219.96 L199.93,219.52 L200.54,219.09 L201.15,218.66 L201.76,218.23 L202.37,217.79 L202.99,217.36 L203.60,216.93 L204.21,216.50 L204.82,216.06 L205.43,215.63 L206.05,215.20 L206.66,214.76 L207.27,214.33 L207.88,213.90 L208.49,213.47 L209.10,213.03 L209.72,212.60 L210.33,212.17 L210.94,211.74 L211.55,211.30 L212.16,210.87 L212.77,210.44 L213.39,210.01 L214.00,209.57 L214.61,209.14 L215.22,208.71 L215.83,208.27 L216.44,207.84 L217.06,207.41 L217.67,206.98 L218.28,206.54 L218.89,206.11 L219.50,205.68 L220.11,205.25 L220.73,204.81 L221.34,204.38 L221.95,203.95 L222.56,203.51 L223.17,203.08 L223.78,202.65 L224.40,202.22 L225.01,201.78 L225.62,201.35 L226.23,200.92 L226.84,200.49 L227.45,200.05 L228.07,199.62 L228.68,199.19 L229.29,198.75 L229.90,198.32 L230.51,197.89 L231.12,197.46 L231.74,197.02 L232.35,196.59 L232.96,196.16 L233.57,195.72 L234.18,195.29 L234.79,194.86 L235.41,194.42 L236.02,193.99 L236.63,193.56 L237.24,193.13 L237.85,192.69 L238.46,192.26 L239.08,191.83 L239.69,191.39 L240.30,190.96 L240.91,190.53 L241.52,190.09 L242.13,189.66 L242.75,189.23 L243.36,188.79 L243.97,188.36 L244.58,187.93 L245.19,187.49 L245.80,187.06 L246.42,186.63 L247.00,186.21" stroke="#0ff" stroke-dasharray="8.6 3.9"/>
<path d="M247.00,186.21 L247.03,186.19 L247.64,185.76 L248.25,185.33 L248.86,184.89 L249.47,184.46 L250.09,184.03 L250.70,183.59 L251.31,183.16 L251.92,182.73 L252.53,182.29 L253.14,181.86 L253.76,181.43 L254.37,180.99 L254.98,180.56 L255.59,180.12 L256.20,179.69 L256.82,179.26 L257.43,178.82 L258.04,178.39 L258.65,177.95 L259.26,177.52 L259.87,177.09 L260.49,176.65 L261.10,176.22 L261.71,175.79 L262.32,175.35 L262.93,174.92 L263.54,174.48 L264.16,174.05 L264.77,173.61 L265.38,173.18 L265.99,172.75 L266.60,172.31 L267.21,171.88 L267.83,171.44 L268.44,171.01 L269.05,170.57 L269.66,170.14 L270.27,169.71 L270.88,169.27 L271.50,168.84 L272.11,168.40 L272.72,167.97 L273.33,167.53 L273.94,167.10 L274.55,166.66 L275.17,166.23 L275.78,165.79 L276.39,165.36 L277.00,164.92 L277.61,164.49 L278.22,164.05 L278.84,163.62 L279.45,163.18 L280.06,162.75 L280.67,162.31 L281.28,161.88 L281.89,161.44 L282.51,161.01 L283.12,160.57 L283.73,160.14 L284.34,159.70 L284.95,159.27 L285.56,158.83 L286.18,158.40 L286.79,157.96 L287.40,157.52 L288.01,157.09 L288.62,156.65 L289.23,156.22 L289.85,155.78 L290.46,155.35 L291.07,154.91 L291.68,154.47 L292.29,154.04 L292.90,153.60 L293.52,153.17 L294.13,152.73 L294.74,152.29 L295.35,151.86 L295.96,151.42 L296.57,150.98 L297.19,150.55 L297.80,150.11 L298.41,149.67 L299.02,149.24 L299.63,148.80 L300.24,148.36 L300.86,147.93 L301.47,147.49 L302.08,147.05 L302.69,146.62 L303.30,146.18 L303.91,145.74 L304.53,145.31 L305.14,144.87 L305.75,144.43 L306.36,143.99 L306.97,143.56 L307.58,143.12 L308.20,142.68 L308.81,142.24 L309.42,141.81 L310.03,141.37 L310.64,140.93 L311.26,140.49 L311.87,140.06 L312.48,139.62 L313.09,139.18 L313.70,138.74 L314.31,138.30 L314.93,137.86 L315.54,137.43 L316.15,136.99 L316.76,136.55 L317.37,136.11 L317.98,135.67 L318.60,135.23 L319.21,134.79 L319.82,134.35 L320.43,133.92 L321.04,133.48 L321.65,133.04" stroke="#0ff" stroke-dasharray="8.6 3.9"/>
<path d="M321.65,133.04 L321.65,133.04 L322.27,132.60 L322.88,132.16 L323.49,131.72 L324.10,131.28 L324.71,130.84 L325.32,130.40 L325.94,129.96 L326.55,129.52 L327.16,129.08 L327.77,128.64 L328.38,128.20 L328.99,127.76 L329.61,127.32 L330.22,126.88 L330.83,126.44 L331.44,126.00 L332.05,125.56 L332.66,125.12 L333.28,124.68 L333.89,124.23 L334.50,123.79 L335.11,123.35 L335.72,122.91 L336.33,122.47 L336.95,122.03 L337.56,121.59 L338.17,121.14 L338.78,120.70 L339.39,120.26 L340.00,119.82 L340.62,119.38 L341.23,118.93 L341.84,118.49 L342.45,118.05 L343.06,117.61 L343.67,117.16 L344.29,116.72 L344.90,116.28 L345.51,115.83 L346.12,115.39 L346.73,114.95 L347.34,114.50 L347.96,114.06 L348.57,113.62 L349.18,113.17 L349.79,112.73 L350.40,112.28 L351.01,111.84 L351.63,111.40 L352.24,110.95 L352.85,110.51 L353.46,110.06 L354.07,109.62 L354.68,109.17 L355.30,108.73 L355.91,108.28 L356.52,107.84 L357.13,107.39 L357.74,106.95 L358.35,106.50 L358.97,106.05 L359.58,105.61 L360.19,105.16 L360.80,104.72 L361.41,104.27 L362.03,103.82 L362.64,103.38 L363.25,102.93 L363.86,102.48 L364.47,102.04 L365.08,101.59 L365.70,101.14 L366.31,100.69 L366.92,100.25 L367.53,99.80 L368.14,99.35 L368.75,98.90 L369.37,98.45 L369.98,98.01 L370.59,97.56 L371.20,97.11 L371.81,96.66 L372.42,96.21 L373.04,95.76 L373.65,95.31 L374.26,94.86 L374.87,94.41 L375.48,93.97 L376.09,93.52 L376.71,93.07 L377.32,92.62 L377.93,92.17 L378.54,91.71 L379.15,91.26 L379.76,90.81 L380.38,90.36 L380.99,89.91 L381.60,89.46 L382.21,89.01 L382.82,88.56 L383.43,88.11 L384.05,87.65 L384.66,87.20 L385.27,86.75 L385.88,86.30 L386.49,85.85 L387.10,85.39 L387.72,84.94 L388.33,84.49 L388.94,84.03 L389.55,83.58 L390.16,83.13 L390.77,82.67 L391.39,82.22 L392.00,81.77 L392.61,81.31 L393.22,80.86 L393.83,80.40 L394.44,79.95 L395.06,79.49 L395.67,79.04 L396.28,78.58 L396.30,78.57" stroke="#0ff" stroke-dasharray="8.6 3.9"/>
<path d="M396.30,78.57 L396.89,78.13 L397.50,77.67 L398.11,77.22 L398.73,76.76 L399.34,76.30 L399.95,75.85 L400.56,75.39 L401.17,74.93 L401.78,74.48 L402.40,74.02 L403.01,73.56 L403.62,73.11 L404.23,72.65 L404.84,72.19 L405.45,71.73 L406.07,71.27 L406.68,70.82 L407.29,70.36 L407.90,69.90 L408.51,69.44 L409.12,68.98 L409.74,68.52 L410.35,68.06 L410.96,67.60 L411.57,67.14 L412.18,66.68 L412.79,66.22 L413.41,65.76 L414.02,65.30 L414.63,64.84 L415.24,64.38 L415.85,63.92 L416.47,63.46 L417.08,62.99 L417.69,62.53 L418.30,62.07 L418.91,61.61 L419.52,61.15 L420.14,60.68 L420.75,60.22 L421.36,59.76 L421.97,59.29 L422.58,58.83 L423.19,58.37 L423.81,57.90 L424.42,57.44 L425.03,56.97 L425.64,56.51 L426.25,56.05 L426.86,55.58 L427.48,55.12 L428.09,54.65 L428.70,54.18 L429.31,53.72 L429.92,53.25 L430.53,52.79 L431.15,52.32 L431.76,51.85 L432.37,51.39 L432.98,50.92 L433.59,50.45 L434.20,49.98 L434.82,49.52 L435.43,49.05 L436.04,48.58 L436.65,48.11 L437.26,47.64 L437.87,47.17 L438.49,46.70 L439.10,46.23 L439.71,45.76 L440.32,45.29 L440.93,44.82 L441.54,44.35 L442.16,43.88 L442.77,43.41 L443.38,42.94 L443.99,42.47 L444.60,42.00 L445.21,41.53 L445.83,41.06 L446.44,40.58 L447.05,40.11 L447.66,39.64 L448.27,39.16 L448.88,38.69 L449.50,38.22 L450.11,37.74 L450.72,37.27 L451.33,36.80 L451.94,36.32 L452.55,35.85 L453.17,35.37 L453.78,34.90 L454.39,34.42 L455.00,33.95 L455.61,33.47 L456.22,32.99 L456.84,32.52 L457.45,32.04 L458.06,31.56 L458.67,31.09 L459.28,30.61 L459.89,30.13 L460.51,29.65 L461.12,29.18 L461.73,28.70 L462.34,28.22 L462.95,27.74 L463.56,27.26 L464.18,26.78 L464.79,26.30 L465.40,25.82" stroke="#0ff" stroke-dasharray="8.6 3.9"/>
<path d="M185.1,34.90 H233" stroke="#000"/>
<path d="M185.1,52.90 H233" stroke="#f00" stroke-dasharray="8.6 3.9"/>
<path d="M185.1,70.90 H233" stroke="#0f0" stroke-dasharray="4.6 5.8"/>
<path d="M185.1,88.90 H233" stroke="#00f" stroke-dasharray="6.7 5.7 2.5 5.9"/>
<path d="M185.1,106.90 H233" stroke="#f0f"/>
<path d="M185.1,124.90 H233" stroke="#0ff" stroke-dasharray="8.6 3.9"/>
</g>
<g stroke="#000" stroke-width="1" fill="none" stroke-linecap="butt">
<path d="M99.0,21.5 L99.0,291.5 L465.5,291.5 L465.5,21.5 Z"/>
<path d="M99.0,246.50 h4.5 M465.5,246.50 h-4.5"/>
<path d="M99.0,201.50 h4.5 M465.5,201.50 h-4.5"/>
<path d="M99.0,156.50 h4.5 M465.5,156.50 h-4.5"/>
<path d="M99.0,111.50 h4.5 M465.5,111.50 h-4.5"/>
<path d="M99.0,66.50 h4.5 M465.5,66.50 h-4.5"/>
<path d="M465.9,21.5 v4.5"/>
<path d="M171.50,291.5 v-4.5 M171.50,21.5 v4.5"/>
<path d="M244.70,291.5 v-4.5 M244.70,21.5 v4.5"/>
<path d="M318.40,291.5 v-4.5 M318.40,21.5 v4.5"/>
<path d="M392.00,291.5 v-4.5 M392.00,21.5 v4.5"/>
</g>
<g font-family="'Liberation Sans', sans-serif" font-size="18" fill="#000">
<text x="116.75" y="40.80">S=0.04</text>
<text x="116.75" y="58.80">S=0.08</text>
<text x="116.75 128.76 139.27 149.28 164.29" y="76.80">S=0.2</text><path transform="translate(154.28,76.80) scale(0.008789,-0.008789)" d="M763 0H583V1147Q518 1085 412.5 1023T223 930V1104Q373 1174.5 485 1275T644 1470H763Z"/>
<text x="116.75 128.76 139.27 149.28 164.29" y="94.80">S=0.6</text><path transform="translate(154.28,94.80) scale(0.008789,-0.008789)" d="M763 0H583V1147Q518 1085 412.5 1023T223 930V1104Q373 1174.5 485 1275T644 1470H763Z"/>
<text x="126.76" y="112.80">S=0.2</text>
<text x="116.75" y="130.80">S=0.24</text>
<text x="77.59" y="297.70">0</text>
<text x="52.57" y="252.70">0.04</text>
<text x="52.57" y="207.70">0.08</text>
<text x="52.57 62.58 77.59" y="162.70">0.2</text><path transform="translate(67.58,162.70) scale(0.008789,-0.008789)" d="M763 0H583V1147Q518 1085 412.5 1023T223 930V1104Q373 1174.5 485 1275T644 1470H763Z"/>
<text x="52.57 62.58 77.59" y="117.70">0.6</text><path transform="translate(67.58,117.70) scale(0.008789,-0.008789)" d="M763 0H583V1147Q518 1085 412.5 1023T223 930V1104Q373 1174.5 485 1275T644 1470H763Z"/>
<text x="62.58" y="72.70">0.2</text>
<text x="52.57" y="27.70">0.24</text>
<text x="160.99" y="315.10">0.2</text>
<text x="234.69" y="315.10">0.4</text>
<text x="308.39" y="315.10">0.6</text>
<text x="382.39" y="315.10">0.8</text>
<path transform="translate(462.80,315.10) scale(0.008789,-0.008789)" d="M763 0H583V1147Q518 1085 412.5 1023T223 930V1104Q373 1174.5 485 1275T644 1470H763Z"/>
<text x="278.00" y="341.60">y</text>
<text transform="translate(20.8,156.0) rotate(-90)" text-anchor="middle">u(y)</text>
</g>
</svg>
</body></html>
